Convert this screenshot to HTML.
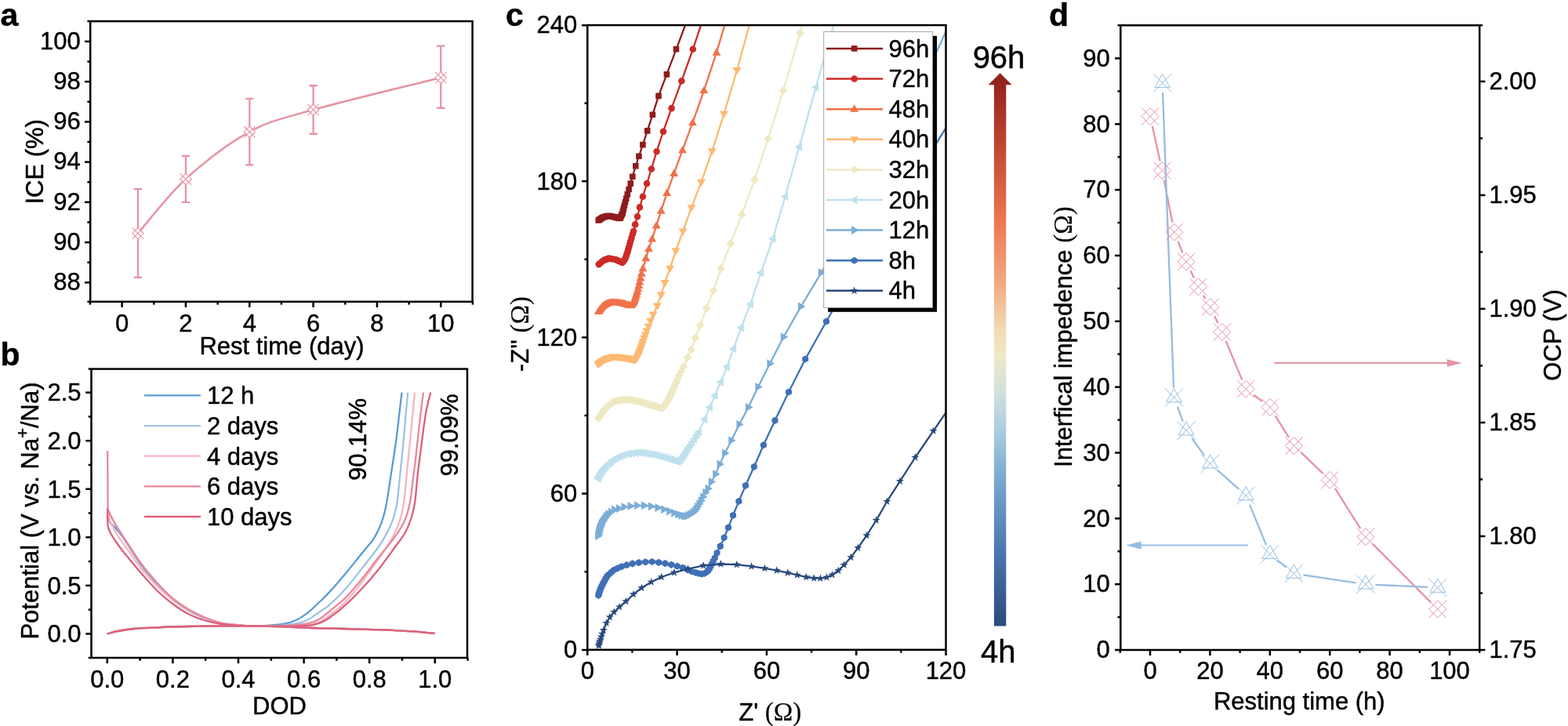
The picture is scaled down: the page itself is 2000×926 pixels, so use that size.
<!DOCTYPE html>
<html lang="en"><head><meta charset="utf-8"><title>Figure</title>
<style>
html,body{margin:0;padding:0;background:#fff;}
body{width:2000px;height:926px;overflow:hidden;}
svg{display:block;font-family:"Liberation Sans", sans-serif;}
text{stroke:#000;stroke-width:0.45px;stroke-linejoin:round;}
</style></head><body>
<svg width="2000" height="926" viewBox="0 0 2000 926">
<rect width="2000" height="926" fill="#fff"/>
<rect x="115.2" y="27.1" width="487.4" height="357.7" fill="none" stroke="#000" stroke-width="2.5"/>
<line x1="114.93" y1="384.8" x2="114.93" y2="388.6" stroke="#000" stroke-width="2.5" />
<line x1="155.6" y1="384.8" x2="155.6" y2="392" stroke="#000" stroke-width="2.5" />
<text x="155.6" y="422.8" font-size="31" text-anchor="middle" fill="#000">0</text>
<line x1="196.27" y1="384.8" x2="196.27" y2="388.6" stroke="#000" stroke-width="2.5" />
<line x1="236.94" y1="384.8" x2="236.94" y2="392" stroke="#000" stroke-width="2.5" />
<text x="236.94" y="422.8" font-size="31" text-anchor="middle" fill="#000">2</text>
<line x1="277.61" y1="384.8" x2="277.61" y2="388.6" stroke="#000" stroke-width="2.5" />
<line x1="318.28" y1="384.8" x2="318.28" y2="392" stroke="#000" stroke-width="2.5" />
<text x="318.28" y="422.8" font-size="31" text-anchor="middle" fill="#000">4</text>
<line x1="358.95" y1="384.8" x2="358.95" y2="388.6" stroke="#000" stroke-width="2.5" />
<line x1="399.62" y1="384.8" x2="399.62" y2="392" stroke="#000" stroke-width="2.5" />
<text x="399.62" y="422.8" font-size="31" text-anchor="middle" fill="#000">6</text>
<line x1="440.29" y1="384.8" x2="440.29" y2="388.6" stroke="#000" stroke-width="2.5" />
<line x1="480.96" y1="384.8" x2="480.96" y2="392" stroke="#000" stroke-width="2.5" />
<text x="480.96" y="422.8" font-size="31" text-anchor="middle" fill="#000">8</text>
<line x1="521.63" y1="384.8" x2="521.63" y2="388.6" stroke="#000" stroke-width="2.5" />
<line x1="562.3" y1="384.8" x2="562.3" y2="392" stroke="#000" stroke-width="2.5" />
<text x="562.3" y="422.8" font-size="31" text-anchor="middle" fill="#000">10</text>
<line x1="602.97" y1="384.8" x2="602.97" y2="388.6" stroke="#000" stroke-width="2.5" />
<line x1="115.2" y1="384.8" x2="111.4" y2="384.8" stroke="#000" stroke-width="2.5" />
<line x1="115.2" y1="360.34" x2="108" y2="360.34" stroke="#000" stroke-width="2.5" />
<text x="102.7" y="370.14" font-size="31" text-anchor="end" fill="#000">88</text>
<line x1="115.2" y1="334.72" x2="111.4" y2="334.72" stroke="#000" stroke-width="2.5" />
<line x1="115.2" y1="309.1" x2="108" y2="309.1" stroke="#000" stroke-width="2.5" />
<text x="102.7" y="318.9" font-size="31" text-anchor="end" fill="#000">90</text>
<line x1="115.2" y1="283.48" x2="111.4" y2="283.48" stroke="#000" stroke-width="2.5" />
<line x1="115.2" y1="257.86" x2="108" y2="257.86" stroke="#000" stroke-width="2.5" />
<text x="102.7" y="267.66" font-size="31" text-anchor="end" fill="#000">92</text>
<line x1="115.2" y1="232.24" x2="111.4" y2="232.24" stroke="#000" stroke-width="2.5" />
<line x1="115.2" y1="206.62" x2="108" y2="206.62" stroke="#000" stroke-width="2.5" />
<text x="102.7" y="216.42" font-size="31" text-anchor="end" fill="#000">94</text>
<line x1="115.2" y1="181" x2="111.4" y2="181" stroke="#000" stroke-width="2.5" />
<line x1="115.2" y1="155.38" x2="108" y2="155.38" stroke="#000" stroke-width="2.5" />
<text x="102.7" y="165.18" font-size="31" text-anchor="end" fill="#000">96</text>
<line x1="115.2" y1="129.76" x2="111.4" y2="129.76" stroke="#000" stroke-width="2.5" />
<line x1="115.2" y1="104.14" x2="108" y2="104.14" stroke="#000" stroke-width="2.5" />
<text x="102.7" y="113.94" font-size="31" text-anchor="end" fill="#000">98</text>
<line x1="115.2" y1="78.52" x2="111.4" y2="78.52" stroke="#000" stroke-width="2.5" />
<line x1="115.2" y1="52.9" x2="108" y2="52.9" stroke="#000" stroke-width="2.5" />
<text x="102.7" y="62.7" font-size="31" text-anchor="end" fill="#000">100</text>
<line x1="115.2" y1="27.1" x2="111.4" y2="27.1" stroke="#000" stroke-width="2.5" />
<text x="0.5" y="33" font-size="41" text-anchor="start" font-weight="bold" fill="#000">a</text>
<text x="359.5" y="452.4" font-size="31" text-anchor="middle" fill="#000">Rest time (day)</text>
<text x="54.6" y="206.3" font-size="31" text-anchor="middle" transform="rotate(-90 54.6 206.3)" fill="#000">ICE (%)</text>
<path d="M175.94,297.57 C186.1,286.04 213.22,249.96 236.94,228.4 C260.66,206.83 291.17,182.92 318.28,168.19 C345.39,153.46 358.95,151.54 399.62,140.01 C440.29,128.48 535.19,105.85 562.3,99.02" fill="none" stroke="#e693a3" stroke-width="2.5"/>
<path d="M175.94,241.21V353.94M170.74,241.21h10.4M170.74,353.94h10.4" fill="none" stroke="#e693a3" stroke-width="2.3"/>
<path d="M236.94,198.93V257.86M231.74,198.93h10.4M231.74,257.86h10.4" fill="none" stroke="#e693a3" stroke-width="2.3"/>
<path d="M318.28,125.92V210.46M313.08,125.92h10.4M313.08,210.46h10.4" fill="none" stroke="#e693a3" stroke-width="2.3"/>
<path d="M399.62,109.26V170.75M394.42,109.26h10.4M394.42,170.75h10.4" fill="none" stroke="#e693a3" stroke-width="2.3"/>
<path d="M562.3,58.54V137.96M557.1,58.54h10.4M557.1,137.96h10.4" fill="none" stroke="#e693a3" stroke-width="2.3"/>
<path d="M168.74,297.57L175.94,290.37L183.13,297.57L175.94,304.77Z" fill="#fff" stroke="none"/>
<path d="M168.74,297.57L175.94,290.37L183.13,297.57L175.94,304.77ZM168.74,290.37L183.13,304.77M168.74,304.77L183.13,290.37" fill="none" stroke="#e693a3" stroke-width="1.1"/>
<path d="M229.74,228.4L236.94,221.2L244.14,228.4L236.94,235.6Z" fill="#fff" stroke="none"/>
<path d="M229.74,228.4L236.94,221.2L244.14,228.4L236.94,235.6ZM229.74,221.2L244.14,235.6M229.74,235.6L244.14,221.2" fill="none" stroke="#e693a3" stroke-width="1.1"/>
<path d="M311.08,168.19L318.28,160.99L325.48,168.19L318.28,175.39Z" fill="#fff" stroke="none"/>
<path d="M311.08,168.19L318.28,160.99L325.48,168.19L318.28,175.39ZM311.08,160.99L325.48,175.39M311.08,175.39L325.48,160.99" fill="none" stroke="#e693a3" stroke-width="1.1"/>
<path d="M392.42,140.01L399.62,132.81L406.82,140.01L399.62,147.21Z" fill="#fff" stroke="none"/>
<path d="M392.42,140.01L399.62,132.81L406.82,140.01L399.62,147.21ZM392.42,132.81L406.82,147.21M392.42,147.21L406.82,132.81" fill="none" stroke="#e693a3" stroke-width="1.1"/>
<path d="M555.1,99.02L562.3,91.82L569.5,99.02L562.3,106.22Z" fill="#fff" stroke="none"/>
<path d="M555.1,99.02L562.3,91.82L569.5,99.02L562.3,106.22ZM555.1,91.82L569.5,106.22M555.1,106.22L569.5,91.82" fill="none" stroke="#e693a3" stroke-width="1.1"/>
<rect x="116.5" y="470.6" width="479.5" height="368.4" fill="none" stroke="#000" stroke-width="2.5"/>
<line x1="136.8" y1="839" x2="136.8" y2="846.2" stroke="#000" stroke-width="2.5" />
<text x="136.8" y="876.7" font-size="31" text-anchor="middle" fill="#000">0.0</text>
<line x1="178.6" y1="839" x2="178.6" y2="842.8" stroke="#000" stroke-width="2.5" />
<line x1="220.4" y1="839" x2="220.4" y2="846.2" stroke="#000" stroke-width="2.5" />
<text x="220.4" y="876.7" font-size="31" text-anchor="middle" fill="#000">0.2</text>
<line x1="262.2" y1="839" x2="262.2" y2="842.8" stroke="#000" stroke-width="2.5" />
<line x1="304" y1="839" x2="304" y2="846.2" stroke="#000" stroke-width="2.5" />
<text x="304" y="876.7" font-size="31" text-anchor="middle" fill="#000">0.4</text>
<line x1="345.8" y1="839" x2="345.8" y2="842.8" stroke="#000" stroke-width="2.5" />
<line x1="387.6" y1="839" x2="387.6" y2="846.2" stroke="#000" stroke-width="2.5" />
<text x="387.6" y="876.7" font-size="31" text-anchor="middle" fill="#000">0.6</text>
<line x1="429.4" y1="839" x2="429.4" y2="842.8" stroke="#000" stroke-width="2.5" />
<line x1="471.2" y1="839" x2="471.2" y2="846.2" stroke="#000" stroke-width="2.5" />
<text x="471.2" y="876.7" font-size="31" text-anchor="middle" fill="#000">0.8</text>
<line x1="513" y1="839" x2="513" y2="842.8" stroke="#000" stroke-width="2.5" />
<line x1="554.8" y1="839" x2="554.8" y2="846.2" stroke="#000" stroke-width="2.5" />
<text x="554.8" y="876.7" font-size="31" text-anchor="middle" fill="#000">1.0</text>
<line x1="596.6" y1="839" x2="596.6" y2="842.8" stroke="#000" stroke-width="2.5" />
<line x1="116.5" y1="839" x2="112.7" y2="839" stroke="#000" stroke-width="2.5" />
<line x1="116.5" y1="808.4" x2="109.3" y2="808.4" stroke="#000" stroke-width="2.5" />
<text x="103.5" y="819.2" font-size="31" text-anchor="end" fill="#000">0.0</text>
<line x1="116.5" y1="777.62" x2="112.7" y2="777.62" stroke="#000" stroke-width="2.5" />
<line x1="116.5" y1="746.85" x2="109.3" y2="746.85" stroke="#000" stroke-width="2.5" />
<text x="103.5" y="757.65" font-size="31" text-anchor="end" fill="#000">0.5</text>
<line x1="116.5" y1="716.08" x2="112.7" y2="716.08" stroke="#000" stroke-width="2.5" />
<line x1="116.5" y1="685.3" x2="109.3" y2="685.3" stroke="#000" stroke-width="2.5" />
<text x="103.5" y="696.1" font-size="31" text-anchor="end" fill="#000">1.0</text>
<line x1="116.5" y1="654.52" x2="112.7" y2="654.52" stroke="#000" stroke-width="2.5" />
<line x1="116.5" y1="623.75" x2="109.3" y2="623.75" stroke="#000" stroke-width="2.5" />
<text x="103.5" y="634.55" font-size="31" text-anchor="end" fill="#000">1.5</text>
<line x1="116.5" y1="592.98" x2="112.7" y2="592.98" stroke="#000" stroke-width="2.5" />
<line x1="116.5" y1="562.2" x2="109.3" y2="562.2" stroke="#000" stroke-width="2.5" />
<text x="103.5" y="573" font-size="31" text-anchor="end" fill="#000">2.0</text>
<line x1="116.5" y1="531.42" x2="112.7" y2="531.42" stroke="#000" stroke-width="2.5" />
<line x1="116.5" y1="500.65" x2="109.3" y2="500.65" stroke="#000" stroke-width="2.5" />
<text x="103.5" y="511.45" font-size="31" text-anchor="end" fill="#000">2.5</text>
<line x1="116.5" y1="470.6" x2="112.7" y2="470.6" stroke="#000" stroke-width="2.5" />
<text x="0.5" y="465.5" font-size="41" text-anchor="start" font-weight="bold" fill="#000">b</text>
<text x="356.5" y="911" font-size="31" text-anchor="middle" fill="#000">DOD</text>
<text x="48.8" y="651.5" font-size="31" text-anchor="middle" transform="rotate(-90 48.8 651.5)">Potential (V vs. Na<tspan dy="-13" font-size="22">+</tspan><tspan dy="13">/Na)</tspan></text>
<line x1="184" y1="504.4" x2="256" y2="504.4" stroke="#5b9bd5" stroke-width="2.3" />
<text x="264" y="515.4" font-size="31" text-anchor="start" fill="#000">12 h</text>
<line x1="184" y1="543.05" x2="256" y2="543.05" stroke="#9dc3e6" stroke-width="2.3" />
<text x="264" y="554.05" font-size="31" text-anchor="start" fill="#000">2 days</text>
<line x1="184" y1="581.7" x2="256" y2="581.7" stroke="#f4b5c1" stroke-width="2.3" />
<text x="264" y="592.7" font-size="31" text-anchor="start" fill="#000">4 days</text>
<line x1="184" y1="620.35" x2="256" y2="620.35" stroke="#e8899c" stroke-width="2.3" />
<text x="264" y="631.35" font-size="31" text-anchor="start" fill="#000">6 days</text>
<line x1="184" y1="659" x2="256" y2="659" stroke="#dc617a" stroke-width="2.3" />
<text x="264" y="670" font-size="31" text-anchor="start" fill="#000">10 days</text>
<text x="467.1" y="613" font-size="31" text-anchor="start" transform="rotate(-90 467.1 613)" fill="#000">90.14%</text>
<text x="583.8" y="607.5" font-size="31" text-anchor="start" transform="rotate(-90 583.8 607.5)" fill="#000">99.09%</text>
<path d="M136.8,808.4 C139,807.83 144.47,806.07 150,805 C155.53,803.93 161.67,802.78 170,802 C178.33,801.22 188.33,800.8 200,800.3 C211.67,799.8 223.33,799.33 240,799 C256.67,798.67 280,798.25 300,798.3 C320,798.35 343.33,798.85 360,799.3 C376.67,799.75 386.67,800.55 400,801 C413.33,801.45 426.33,801.63 440,802 C453.67,802.37 468.17,802.67 482,803.2 C495.83,803.73 510.92,804.4 523,805.2 C535.08,806 549.25,807.53 554.5,808" fill="none" stroke="#5b9bd5" stroke-width="2.3"/>
<path d="M136.8,808.4 C139,807.83 144.47,806.07 150,805 C155.53,803.93 161.67,802.78 170,802 C178.33,801.22 188.33,800.8 200,800.3 C211.67,799.8 223.33,799.33 240,799 C256.67,798.67 280,798.25 300,798.3 C320,798.35 343.33,798.85 360,799.3 C376.67,799.75 386.67,800.55 400,801 C413.33,801.45 426.33,801.63 440,802 C453.67,802.37 468.17,802.67 482,803.2 C495.83,803.73 510.92,804.4 523,805.2 C535.08,806 549.25,807.53 554.5,808" fill="none" stroke="#9dc3e6" stroke-width="2.3"/>
<path d="M136.8,808.4 C139,807.83 144.47,806.07 150,805 C155.53,803.93 161.67,802.78 170,802 C178.33,801.22 188.33,800.8 200,800.3 C211.67,799.8 223.33,799.33 240,799 C256.67,798.67 280,798.25 300,798.3 C320,798.35 343.33,798.85 360,799.3 C376.67,799.75 386.67,800.55 400,801 C413.33,801.45 426.33,801.63 440,802 C453.67,802.37 468.17,802.67 482,803.2 C495.83,803.73 510.92,804.4 523,805.2 C535.08,806 549.25,807.53 554.5,808" fill="none" stroke="#f4b5c1" stroke-width="2.3"/>
<path d="M136.8,808.4 C139,807.83 144.47,806.07 150,805 C155.53,803.93 161.67,802.78 170,802 C178.33,801.22 188.33,800.8 200,800.3 C211.67,799.8 223.33,799.33 240,799 C256.67,798.67 280,798.25 300,798.3 C320,798.35 343.33,798.85 360,799.3 C376.67,799.75 386.67,800.55 400,801 C413.33,801.45 426.33,801.63 440,802 C453.67,802.37 468.17,802.67 482,803.2 C495.83,803.73 510.92,804.4 523,805.2 C535.08,806 549.25,807.53 554.5,808" fill="none" stroke="#e8899c" stroke-width="2.3"/>
<path d="M136.8,808.4 C139,807.83 144.47,806.07 150,805 C155.53,803.93 161.67,802.78 170,802 C178.33,801.22 188.33,800.8 200,800.3 C211.67,799.8 223.33,799.33 240,799 C256.67,798.67 280,798.25 300,798.3 C320,798.35 343.33,798.85 360,799.3 C376.67,799.75 386.67,800.55 400,801 C413.33,801.45 426.33,801.63 440,802 C453.67,802.37 468.17,802.67 482,803.2 C495.83,803.73 510.92,804.4 523,805.2 C535.08,806 549.25,807.53 554.5,808" fill="none" stroke="#dc617a" stroke-width="2.3"/>
<path d="M137.4,659 C138,660.33 139.57,664.83 141,667 C142.43,669.17 144.17,670 146,672 C147.83,674 149.67,676 152,679 C154.33,682 155.33,683.08 160,690 C164.67,696.92 173.33,711.42 180,720.5 C186.67,729.58 193.33,737.17 200,744.5 C206.67,751.83 213.33,758.83 220,764.5 C226.67,770.17 233.33,774.58 240,778.5 C246.67,782.42 253.33,785.37 260,788 C266.67,790.63 273.33,792.8 280,794.3 C286.67,795.8 294,796.32 300,797 C306,797.68 313.33,798.17 316,798.4" fill="none" stroke="#5b9bd5" stroke-width="2.3"/>
<path d="M316,798.4 C320,798.33 332.43,798.4 340,798 C347.57,797.6 355.32,797.08 361.4,796 C367.48,794.92 371.47,793.77 376.5,791.5 C381.53,789.23 386.55,786.23 391.6,782.4 C396.65,778.57 401.98,773.08 406.8,768.5 C411.62,763.92 414.8,761.1 420.5,754.9 C426.2,748.7 434.15,739.5 441,731.3 C447.85,723.1 455.78,712.88 461.6,705.7 C467.42,698.52 472.15,693.68 475.9,688.2 C479.65,682.72 481.88,677.75 484.1,672.8 C486.32,667.85 487.65,663.97 489.2,658.5 C490.75,653.03 491.58,650.35 493.4,640 C495.22,629.65 498.1,609.6 500.1,596.4 C502.1,583.2 503.82,572.67 505.4,560.8 C506.98,548.93 508.42,535.23 509.6,525.2 C510.78,515.17 512.02,504.7 512.5,500.6" fill="none" stroke="#5b9bd5" stroke-width="2.3"/>
<path d="M138,651 C139,653 141.67,658.75 144,663 C146.33,667.25 149.33,672.17 152,676.5 C154.67,680.83 155.33,681.92 160,689 C164.67,696.08 173.33,710 180,719 C186.67,728 193.33,735.67 200,743 C206.67,750.33 213.33,757.33 220,763 C226.67,768.67 233.33,773 240,777 C246.67,781 253.33,784.17 260,787 C266.67,789.83 273.33,792.33 280,794 C286.67,795.67 294,796.27 300,797 C306,797.73 313.33,798.17 316,798.4" fill="none" stroke="#9dc3e6" stroke-width="2.3"/>
<path d="M316,798.4 C321.67,798.37 339.92,798.67 350,798.2 C360.08,797.73 369.57,796.8 376.5,795.6 C383.43,794.4 386.55,793.43 391.6,791 C396.65,788.57 401.98,784.28 406.8,781 C411.62,777.72 414.8,776.33 420.5,771.3 C426.2,766.27 434.15,758.5 441,750.8 C447.85,743.1 454.75,733.82 461.6,725.1 C468.45,716.38 476.98,705.67 482.1,698.5 C487.22,691.33 489.23,687.75 492.3,682.1 C495.37,676.45 498.45,669.9 500.5,664.6 C502.55,659.3 503.57,654.4 504.6,650.3 C505.63,646.2 505.7,647.93 506.7,640 C507.7,632.07 509.25,615.9 510.6,602.7 C511.95,589.5 513.58,573.72 514.8,560.8 C516.02,547.88 517,535.23 517.9,525.2 C518.8,515.17 519.82,504.7 520.2,500.6" fill="none" stroke="#9dc3e6" stroke-width="2.3"/>
<path d="M137.4,655 C138.17,657.17 139.9,663.33 142,668 C144.1,672.67 147,678.17 150,683 C153,687.83 155,690 160,697 C165,704 173.33,716.67 180,725 C186.67,733.33 193.33,740.33 200,747 C206.67,753.67 213.33,759.83 220,765 C226.67,770.17 233.33,774.28 240,778 C246.67,781.72 253.33,784.63 260,787.3 C266.67,789.97 273.33,792.38 280,794 C286.67,795.62 294,796.27 300,797 C306,797.73 313.33,798.17 316,798.4" fill="none" stroke="#f4b5c1" stroke-width="2.3"/>
<path d="M316,798.4 C323.33,798.42 347.67,798.73 360,798.5 C372.33,798.27 382.2,797.83 390,797 C397.8,796.17 401.72,795.57 406.8,793.5 C411.88,791.43 414.8,788.98 420.5,784.6 C426.2,780.22 434.15,774.2 441,767.2 C447.85,760.2 454.75,751.48 461.6,742.6 C468.45,733.72 476.3,722.12 482.1,713.9 C487.9,705.68 492.3,700.15 496.4,693.3 C500.5,686.45 503.97,679.28 506.7,672.8 C509.43,666.32 511.37,659.87 512.8,654.4 C514.23,648.93 514.27,648.62 515.3,640 C516.33,631.38 517.68,615.9 519,602.7 C520.32,589.5 521.98,573.03 523.2,560.8 C524.42,548.57 525.33,539.33 526.3,529.3 C527.27,519.27 528.55,505.38 529,500.6" fill="none" stroke="#f4b5c1" stroke-width="2.3"/>
<path d="M137.2,575 C137.23,582.5 137.33,608.33 137.4,620 C137.47,631.67 137.5,639.83 137.6,645 C137.7,650.17 136.93,648 138,651 C139.07,654 141.67,658.75 144,663 C146.33,667.25 149.33,672.17 152,676.5 C154.67,680.83 155.33,681.92 160,689 C164.67,696.08 173.33,710 180,719 C186.67,728 193.33,735.67 200,743 C206.67,750.33 213.33,757.33 220,763 C226.67,768.67 233.33,773 240,777 C246.67,781 253.33,784.17 260,787 C266.67,789.83 273.33,792.33 280,794 C286.67,795.67 294,796.27 300,797 C306,797.73 313.33,798.17 316,798.4" fill="none" stroke="#e8899c" stroke-width="2.3"/>
<path d="M316,798.4 C323.33,798.38 347.4,798.8 360,798.3 C372.6,797.8 383.8,796.78 391.6,795.4 C399.4,794.02 401.98,792.65 406.8,790 C411.62,787.35 414.8,784.15 420.5,779.5 C426.2,774.85 434.15,768.93 441,762.1 C447.85,755.27 454.75,746.88 461.6,738.5 C468.45,730.12 475.27,720.52 482.1,711.8 C488.93,703.08 497.48,693.03 502.6,686.2 C507.72,679.37 510.07,675.77 512.8,670.8 C515.53,665.83 517.28,661.53 519,656.4 C520.72,651.27 521.88,646.85 523.1,640 C524.32,633.15 525.07,625.02 526.3,615.3 C527.53,605.58 529.27,592.18 530.5,581.7 C531.73,571.22 532.65,561.82 533.7,552.4 C534.75,542.98 535.75,533.83 536.8,525.2 C537.85,516.57 539.47,504.7 540,500.6" fill="none" stroke="#e8899c" stroke-width="2.3"/>
<path d="M137.2,648.6 C137.23,652 136.93,664.1 137.4,669 C137.87,673.9 137.9,673.83 140,678 C142.1,682.17 146.67,689.17 150,694 C153.33,698.83 155,700.83 160,707 C165,713.17 173.33,723.33 180,731 C186.67,738.67 193.33,746.5 200,753 C206.67,759.5 213.33,765 220,770 C226.67,775 233.33,779.5 240,783 C246.67,786.5 253.33,788.9 260,791 C266.67,793.1 273.33,794.5 280,795.6 C286.67,796.7 294,797.12 300,797.6 C306,798.08 313.33,798.35 316,798.5" fill="none" stroke="#dc617a" stroke-width="2.3"/>
<path d="M316,798.5 C325.83,798.52 362.67,798.68 375,798.6 C387.33,798.52 385.83,798.3 390,798 C394.17,797.7 396.62,797.53 400,796.8 C403.38,796.07 406.88,795.12 410.3,793.6 C413.72,792.08 415.38,791.42 420.5,787.7 C425.62,783.98 434.15,777.45 441,771.3 C447.85,765.15 454.75,758.15 461.6,750.8 C468.45,743.45 475.27,735.75 482.1,727.2 C488.93,718.65 496.78,707.53 502.6,699.5 C508.42,691.47 513.23,685.83 517,679 C520.77,672.17 523.15,665 525.2,658.5 C527.25,652 528.07,648.6 529.3,640 C530.53,631.4 531.35,618.02 532.6,606.9 C533.85,595.78 535.57,583.08 536.8,573.3 C538.03,563.52 538.95,555.88 540,548.2 C541.05,540.52 542.07,533.13 543.1,527.2 C544.13,521.27 545.15,517.03 546.2,512.6 C547.25,508.17 548.87,502.6 549.4,500.6" fill="none" stroke="#dc617a" stroke-width="2.3"/>
<rect x="1429.3" y="32.3" width="457.9" height="796.7" fill="none" stroke="#000" stroke-width="2.5"/>
<line x1="1428.8" y1="829" x2="1428.8" y2="832.8" stroke="#000" stroke-width="2.5" />
<line x1="1467" y1="829" x2="1467" y2="836.2" stroke="#000" stroke-width="2.5" />
<text x="1467" y="866.4" font-size="31" text-anchor="middle" fill="#000">0</text>
<line x1="1505.2" y1="829" x2="1505.2" y2="832.8" stroke="#000" stroke-width="2.5" />
<line x1="1543.4" y1="829" x2="1543.4" y2="836.2" stroke="#000" stroke-width="2.5" />
<text x="1543.4" y="866.4" font-size="31" text-anchor="middle" fill="#000">20</text>
<line x1="1581.6" y1="829" x2="1581.6" y2="832.8" stroke="#000" stroke-width="2.5" />
<line x1="1619.8" y1="829" x2="1619.8" y2="836.2" stroke="#000" stroke-width="2.5" />
<text x="1619.8" y="866.4" font-size="31" text-anchor="middle" fill="#000">40</text>
<line x1="1658" y1="829" x2="1658" y2="832.8" stroke="#000" stroke-width="2.5" />
<line x1="1696.2" y1="829" x2="1696.2" y2="836.2" stroke="#000" stroke-width="2.5" />
<text x="1696.2" y="866.4" font-size="31" text-anchor="middle" fill="#000">60</text>
<line x1="1734.4" y1="829" x2="1734.4" y2="832.8" stroke="#000" stroke-width="2.5" />
<line x1="1772.6" y1="829" x2="1772.6" y2="836.2" stroke="#000" stroke-width="2.5" />
<text x="1772.6" y="866.4" font-size="31" text-anchor="middle" fill="#000">80</text>
<line x1="1810.8" y1="829" x2="1810.8" y2="832.8" stroke="#000" stroke-width="2.5" />
<line x1="1849" y1="829" x2="1849" y2="836.2" stroke="#000" stroke-width="2.5" />
<text x="1849" y="866.4" font-size="31" text-anchor="middle" fill="#000">100</text>
<line x1="1887.2" y1="829" x2="1887.2" y2="832.8" stroke="#000" stroke-width="2.5" />
<line x1="1429.3" y1="829" x2="1422.1" y2="829" stroke="#000" stroke-width="2.5" />
<text x="1415.8" y="839.3" font-size="31" text-anchor="end" fill="#000">0</text>
<line x1="1429.3" y1="787.08" x2="1425.5" y2="787.08" stroke="#000" stroke-width="2.5" />
<line x1="1429.3" y1="745.16" x2="1422.1" y2="745.16" stroke="#000" stroke-width="2.5" />
<text x="1415.8" y="755.46" font-size="31" text-anchor="end" fill="#000">10</text>
<line x1="1429.3" y1="703.24" x2="1425.5" y2="703.24" stroke="#000" stroke-width="2.5" />
<line x1="1429.3" y1="661.32" x2="1422.1" y2="661.32" stroke="#000" stroke-width="2.5" />
<text x="1415.8" y="671.62" font-size="31" text-anchor="end" fill="#000">20</text>
<line x1="1429.3" y1="619.4" x2="1425.5" y2="619.4" stroke="#000" stroke-width="2.5" />
<line x1="1429.3" y1="577.48" x2="1422.1" y2="577.48" stroke="#000" stroke-width="2.5" />
<text x="1415.8" y="587.78" font-size="31" text-anchor="end" fill="#000">30</text>
<line x1="1429.3" y1="535.56" x2="1425.5" y2="535.56" stroke="#000" stroke-width="2.5" />
<line x1="1429.3" y1="493.64" x2="1422.1" y2="493.64" stroke="#000" stroke-width="2.5" />
<text x="1415.8" y="503.94" font-size="31" text-anchor="end" fill="#000">40</text>
<line x1="1429.3" y1="451.72" x2="1425.5" y2="451.72" stroke="#000" stroke-width="2.5" />
<line x1="1429.3" y1="409.8" x2="1422.1" y2="409.8" stroke="#000" stroke-width="2.5" />
<text x="1415.8" y="420.1" font-size="31" text-anchor="end" fill="#000">50</text>
<line x1="1429.3" y1="367.88" x2="1425.5" y2="367.88" stroke="#000" stroke-width="2.5" />
<line x1="1429.3" y1="325.96" x2="1422.1" y2="325.96" stroke="#000" stroke-width="2.5" />
<text x="1415.8" y="336.26" font-size="31" text-anchor="end" fill="#000">60</text>
<line x1="1429.3" y1="284.04" x2="1425.5" y2="284.04" stroke="#000" stroke-width="2.5" />
<line x1="1429.3" y1="242.12" x2="1422.1" y2="242.12" stroke="#000" stroke-width="2.5" />
<text x="1415.8" y="252.42" font-size="31" text-anchor="end" fill="#000">70</text>
<line x1="1429.3" y1="200.2" x2="1425.5" y2="200.2" stroke="#000" stroke-width="2.5" />
<line x1="1429.3" y1="158.28" x2="1422.1" y2="158.28" stroke="#000" stroke-width="2.5" />
<text x="1415.8" y="168.58" font-size="31" text-anchor="end" fill="#000">80</text>
<line x1="1429.3" y1="116.36" x2="1425.5" y2="116.36" stroke="#000" stroke-width="2.5" />
<line x1="1429.3" y1="74.44" x2="1422.1" y2="74.44" stroke="#000" stroke-width="2.5" />
<text x="1415.8" y="84.74" font-size="31" text-anchor="end" fill="#000">90</text>
<line x1="1429.3" y1="32.3" x2="1425.5" y2="32.3" stroke="#000" stroke-width="2.5" />
<line x1="1887.2" y1="829" x2="1894.4" y2="829" stroke="#000" stroke-width="2.5" />
<text x="1899.5" y="838.7" font-size="31" text-anchor="start" fill="#000">1.75</text>
<line x1="1887.2" y1="756.49" x2="1891" y2="756.49" stroke="#000" stroke-width="2.5" />
<line x1="1887.2" y1="683.98" x2="1894.4" y2="683.98" stroke="#000" stroke-width="2.5" />
<text x="1899.5" y="693.68" font-size="31" text-anchor="start" fill="#000">1.80</text>
<line x1="1887.2" y1="611.47" x2="1891" y2="611.47" stroke="#000" stroke-width="2.5" />
<line x1="1887.2" y1="538.96" x2="1894.4" y2="538.96" stroke="#000" stroke-width="2.5" />
<text x="1899.5" y="548.66" font-size="31" text-anchor="start" fill="#000">1.85</text>
<line x1="1887.2" y1="466.45" x2="1891" y2="466.45" stroke="#000" stroke-width="2.5" />
<line x1="1887.2" y1="393.94" x2="1894.4" y2="393.94" stroke="#000" stroke-width="2.5" />
<text x="1899.5" y="403.64" font-size="31" text-anchor="start" fill="#000">1.90</text>
<line x1="1887.2" y1="321.43" x2="1891" y2="321.43" stroke="#000" stroke-width="2.5" />
<line x1="1887.2" y1="248.92" x2="1894.4" y2="248.92" stroke="#000" stroke-width="2.5" />
<text x="1899.5" y="258.62" font-size="31" text-anchor="start" fill="#000">1.95</text>
<line x1="1887.2" y1="176.41" x2="1891" y2="176.41" stroke="#000" stroke-width="2.5" />
<line x1="1887.2" y1="103.9" x2="1894.4" y2="103.9" stroke="#000" stroke-width="2.5" />
<text x="1899.5" y="113.6" font-size="31" text-anchor="start" fill="#000">2.00</text>
<line x1="1887.2" y1="32.3" x2="1891" y2="32.3" stroke="#000" stroke-width="2.5" />
<text x="1338" y="33" font-size="41" text-anchor="start" font-weight="bold" fill="#000">d</text>
<text x="1657.3" y="905.4" font-size="31" text-anchor="middle" fill="#000">Resting time (h)</text>
<text x="1366.9" y="429.6" font-size="31" text-anchor="middle" transform="rotate(-90 1366.9 429.6)">Interfical impedence <tspan font-family='"Liberation Serif", serif' font-size="33" stroke-width="0.15">(Ω)</tspan></text>
<text x="1991.5" y="427.4" font-size="31" text-anchor="middle" transform="rotate(-90 1991.5 427.4)" fill="#000">OCP (V)</text>
<path d="M1469.8,160.7L1479.7,205.4M1484.81,229.87L1495.39,283.83M1502.49,307.69L1508.41,322.31M1518.51,345.17L1522.99,354.53M1534.79,376.54L1537.41,380.96M1549.16,402.99L1553.54,412.21M1563.7,435.04L1584.3,484.66M1599.08,503.73L1610.02,511.97M1626.61,530.11L1643.89,557.89M1659.51,577.16L1687.09,603.64M1702.78,622.87L1735.22,674.23M1750.72,693.66L1824.88,768.14" fill="none" stroke="#e693a3" stroke-width="2.3"/>
<path d="M1483.06,118.29L1497.04,494.51M1501.84,518.72L1508.76,537.38M1520.42,559.23L1536.18,581.07M1552.82,599.52L1579.88,623.68M1593.94,643.57L1615.06,695.13M1629.49,714.6L1640.51,723.6M1662.56,733.35L1729.54,743.35M1754.39,745.78L1821.21,748.92" fill="none" stroke="#95bde1" stroke-width="2.3"/>
<path d="M1456.1,148.5L1467.1,137.5L1478.1,148.5L1467.1,159.5ZM1456.1,137.5L1478.1,159.5M1456.1,159.5L1478.1,137.5M1471.4,217.6L1482.4,206.6L1493.4,217.6L1482.4,228.6ZM1471.4,206.6L1493.4,228.6M1471.4,228.6L1493.4,206.6M1486.8,296.1L1497.8,285.1L1508.8,296.1L1497.8,307.1ZM1486.8,285.1L1508.8,307.1M1486.8,307.1L1508.8,285.1M1502.1,333.9L1513.1,322.9L1524.1,333.9L1513.1,344.9ZM1502.1,322.9L1524.1,344.9M1502.1,344.9L1524.1,322.9M1517.4,365.8L1528.4,354.8L1539.4,365.8L1528.4,376.8ZM1517.4,354.8L1539.4,376.8M1517.4,376.8L1539.4,354.8M1532.8,391.7L1543.8,380.7L1554.8,391.7L1543.8,402.7ZM1532.8,380.7L1554.8,402.7M1532.8,402.7L1554.8,380.7M1547.9,423.5L1558.9,412.5L1569.9,423.5L1558.9,434.5ZM1547.9,412.5L1569.9,434.5M1547.9,434.5L1569.9,412.5M1578.1,496.2L1589.1,485.2L1600.1,496.2L1589.1,507.2ZM1578.1,485.2L1600.1,507.2M1578.1,507.2L1600.1,485.2M1609,519.5L1620,508.5L1631,519.5L1620,530.5ZM1609,508.5L1631,530.5M1609,530.5L1631,508.5M1639.5,568.5L1650.5,557.5L1661.5,568.5L1650.5,579.5ZM1639.5,557.5L1661.5,579.5M1639.5,579.5L1661.5,557.5M1685.1,612.3L1696.1,601.3L1707.1,612.3L1696.1,623.3ZM1685.1,601.3L1707.1,623.3M1685.1,623.3L1707.1,601.3M1730.9,684.8L1741.9,673.8L1752.9,684.8L1741.9,695.8ZM1730.9,673.8L1752.9,695.8M1730.9,695.8L1752.9,673.8M1822.7,777L1833.7,766L1844.7,777L1833.7,788ZM1822.7,766L1844.7,788M1822.7,788L1844.7,766" fill="none" stroke="#e693a3" stroke-width="1"/>
<path d="M1482.6,94.43L1492.46,111.6L1472.74,111.6ZM1471,94.2L1494.2,117.4M1471,117.4L1494.2,94.2M1497.5,495.63L1507.36,512.8L1487.64,512.8ZM1485.9,495.4L1509.1,518.6M1485.9,518.6L1509.1,495.4M1513.1,537.73L1522.96,554.9L1503.24,554.9ZM1501.5,537.5L1524.7,560.7M1501.5,560.7L1524.7,537.5M1543.5,579.83L1553.36,597L1533.64,597ZM1531.9,579.6L1555.1,602.8M1531.9,602.8L1555.1,579.6M1589.2,620.63L1599.06,637.8L1579.34,637.8ZM1577.6,620.4L1600.8,643.6M1577.6,643.6L1600.8,620.4M1619.8,695.33L1629.66,712.5L1609.94,712.5ZM1608.2,695.1L1631.4,718.3M1608.2,718.3L1631.4,695.1M1650.2,720.13L1660.06,737.3L1640.34,737.3ZM1638.6,719.9L1661.8,743.1M1638.6,743.1L1661.8,719.9M1741.9,733.83L1751.76,751L1732.04,751ZM1730.3,733.6L1753.5,756.8M1730.3,756.8L1753.5,733.6M1833.7,738.13L1843.56,755.3L1823.84,755.3ZM1822.1,737.9L1845.3,761.1M1822.1,761.1L1845.3,737.9" fill="none" stroke="#95bde1" stroke-width="1"/>
<path d="M1625.2,463H1847" fill="none" stroke="#e693a3" stroke-width="2.2"/><path d="M1864.6,463L1845.6,458.2V467.8Z" fill="#e693a3"/>
<path d="M1592.1,695.5H1454" fill="none" stroke="#95bde1" stroke-width="2.2"/><path d="M1436.2,695.5L1455.6,690.6V700.4Z" fill="#95bde1"/>
<clipPath id="cclip"><rect x="749.3" y="32.1" width="457.2" height="796.7"/></clipPath>
<g clip-path="url(#cclip)">
<path d="M763.3,281 L764.55,280.17 L765.8,279.34 L767.04,278.5 L768.29,277.67 L769.62,277.01 L771.06,276.58 L772.49,276.14 L773.93,275.71 L775.36,275.27 L776.83,275.42 L778.31,275.68 L779.79,275.94 L781.27,276.2 L782.74,276.45 L784.19,276.85 L785.63,277.27 L787.07,277.7 L788.51,278.12 L789.94,278.55 L791.06,278.25 L791.71,276.86 L792.41,275.37 L793.16,273.78 L793.96,272.09 L794.43,270.16 L794.98,267.84 L795.64,265.05 L796.51,261.72 L797.55,257.8 L798.76,253.21 L800.27,247.85 L802.11,241.55 L804.3,234.1 L806.83,225.28 L810.8,211.8 L814.9,199.3 L819.9,184.6 L825.7,166.9 L832.4,146.3 L840,122.4 L850.4,94.9 L862.5,62.8 L876.7,25.2" fill="none" stroke="#8e1c1c" stroke-width="2.3" stroke-linejoin="round"/>
<path d="M759.5,277.2h7.6v7.6h-7.6ZM760.75,276.37h7.6v7.6h-7.6ZM762,275.54h7.6v7.6h-7.6ZM763.24,274.7h7.6v7.6h-7.6ZM764.49,273.87h7.6v7.6h-7.6ZM765.82,273.21h7.6v7.6h-7.6ZM767.26,272.78h7.6v7.6h-7.6ZM768.69,272.34h7.6v7.6h-7.6ZM770.13,271.91h7.6v7.6h-7.6ZM771.56,271.47h7.6v7.6h-7.6ZM773.03,271.62h7.6v7.6h-7.6ZM774.51,271.88h7.6v7.6h-7.6ZM775.99,272.14h7.6v7.6h-7.6ZM777.47,272.4h7.6v7.6h-7.6ZM778.94,272.65h7.6v7.6h-7.6ZM780.39,273.05h7.6v7.6h-7.6ZM781.83,273.47h7.6v7.6h-7.6ZM783.27,273.9h7.6v7.6h-7.6ZM784.71,274.32h7.6v7.6h-7.6ZM786.14,274.75h7.6v7.6h-7.6ZM787.26,274.45h7.6v7.6h-7.6ZM787.91,273.06h7.6v7.6h-7.6ZM788.61,271.57h7.6v7.6h-7.6ZM789.36,269.98h7.6v7.6h-7.6ZM790.16,268.29h7.6v7.6h-7.6ZM790.63,266.36h7.6v7.6h-7.6ZM791.18,264.04h7.6v7.6h-7.6ZM791.84,261.25h7.6v7.6h-7.6ZM792.71,257.92h7.6v7.6h-7.6ZM793.75,254h7.6v7.6h-7.6ZM794.96,249.41h7.6v7.6h-7.6ZM796.47,244.05h7.6v7.6h-7.6ZM798.31,237.75h7.6v7.6h-7.6ZM800.5,230.3h7.6v7.6h-7.6ZM803.03,221.48h7.6v7.6h-7.6ZM807,208h7.6v7.6h-7.6ZM811.1,195.5h7.6v7.6h-7.6ZM816.1,180.8h7.6v7.6h-7.6ZM821.9,163.1h7.6v7.6h-7.6ZM828.6,142.5h7.6v7.6h-7.6ZM836.2,118.6h7.6v7.6h-7.6ZM846.6,91.1h7.6v7.6h-7.6ZM858.7,59h7.6v7.6h-7.6ZM872.9,21.4h7.6v7.6h-7.6Z" fill="#8e1c1c"/>
<path d="M763.8,337.1 L764.96,336.15 L766.12,335.19 L767.28,334.24 L768.43,333.29 L769.59,332.34 L770.91,331.67 L772.33,331.17 L773.74,330.66 L775.15,330.15 L776.56,329.65 L778.04,329.83 L779.52,330.07 L780.99,330.32 L782.47,330.57 L783.95,330.82 L785.4,331.18 L786.77,331.79 L788.14,332.4 L789.51,333.01 L790.88,333.61 L792.25,334.22 L793.62,334.83 L794.62,334.11 L795.54,332.81 L796.52,331.4 L797.55,329.85 L798.19,327.94 L798.89,325.83 L799.67,323.49 L800.53,320.9 L801.35,318.01 L802.24,314.84 L803.23,311.37 L804.3,307.56 L805.51,303.41 L806.88,298.78 L808,295 L810.2,286.4 L813,276.2 L816,264.4 L819.9,250.8 L825.1,234.1 L830.9,215.5 L837.6,193.2 L846,167.7 L856.6,138.1 L869.4,103.2 L883.8,62.8 L900.5,13" fill="none" stroke="#cd2a27" stroke-width="2.3" stroke-linejoin="round"/>
<path d="M759.5,337.1a4.3,4.3 0 1,0 8.6,0a4.3,4.3 0 1,0 -8.6,0ZM760.66,336.15a4.3,4.3 0 1,0 8.6,0a4.3,4.3 0 1,0 -8.6,0ZM761.82,335.19a4.3,4.3 0 1,0 8.6,0a4.3,4.3 0 1,0 -8.6,0ZM762.98,334.24a4.3,4.3 0 1,0 8.6,0a4.3,4.3 0 1,0 -8.6,0ZM764.13,333.29a4.3,4.3 0 1,0 8.6,0a4.3,4.3 0 1,0 -8.6,0ZM765.29,332.34a4.3,4.3 0 1,0 8.6,0a4.3,4.3 0 1,0 -8.6,0ZM766.61,331.67a4.3,4.3 0 1,0 8.6,0a4.3,4.3 0 1,0 -8.6,0ZM768.03,331.17a4.3,4.3 0 1,0 8.6,0a4.3,4.3 0 1,0 -8.6,0ZM769.44,330.66a4.3,4.3 0 1,0 8.6,0a4.3,4.3 0 1,0 -8.6,0ZM770.85,330.15a4.3,4.3 0 1,0 8.6,0a4.3,4.3 0 1,0 -8.6,0ZM772.26,329.65a4.3,4.3 0 1,0 8.6,0a4.3,4.3 0 1,0 -8.6,0ZM773.74,329.83a4.3,4.3 0 1,0 8.6,0a4.3,4.3 0 1,0 -8.6,0ZM775.22,330.07a4.3,4.3 0 1,0 8.6,0a4.3,4.3 0 1,0 -8.6,0ZM776.69,330.32a4.3,4.3 0 1,0 8.6,0a4.3,4.3 0 1,0 -8.6,0ZM778.17,330.57a4.3,4.3 0 1,0 8.6,0a4.3,4.3 0 1,0 -8.6,0ZM779.65,330.82a4.3,4.3 0 1,0 8.6,0a4.3,4.3 0 1,0 -8.6,0ZM781.1,331.18a4.3,4.3 0 1,0 8.6,0a4.3,4.3 0 1,0 -8.6,0ZM782.47,331.79a4.3,4.3 0 1,0 8.6,0a4.3,4.3 0 1,0 -8.6,0ZM783.84,332.4a4.3,4.3 0 1,0 8.6,0a4.3,4.3 0 1,0 -8.6,0ZM785.21,333.01a4.3,4.3 0 1,0 8.6,0a4.3,4.3 0 1,0 -8.6,0ZM786.58,333.61a4.3,4.3 0 1,0 8.6,0a4.3,4.3 0 1,0 -8.6,0ZM787.95,334.22a4.3,4.3 0 1,0 8.6,0a4.3,4.3 0 1,0 -8.6,0ZM789.32,334.83a4.3,4.3 0 1,0 8.6,0a4.3,4.3 0 1,0 -8.6,0ZM790.32,334.11a4.3,4.3 0 1,0 8.6,0a4.3,4.3 0 1,0 -8.6,0ZM791.24,332.81a4.3,4.3 0 1,0 8.6,0a4.3,4.3 0 1,0 -8.6,0ZM792.22,331.4a4.3,4.3 0 1,0 8.6,0a4.3,4.3 0 1,0 -8.6,0ZM793.25,329.85a4.3,4.3 0 1,0 8.6,0a4.3,4.3 0 1,0 -8.6,0ZM793.89,327.94a4.3,4.3 0 1,0 8.6,0a4.3,4.3 0 1,0 -8.6,0ZM794.59,325.83a4.3,4.3 0 1,0 8.6,0a4.3,4.3 0 1,0 -8.6,0ZM795.37,323.49a4.3,4.3 0 1,0 8.6,0a4.3,4.3 0 1,0 -8.6,0ZM796.23,320.9a4.3,4.3 0 1,0 8.6,0a4.3,4.3 0 1,0 -8.6,0ZM797.05,318.01a4.3,4.3 0 1,0 8.6,0a4.3,4.3 0 1,0 -8.6,0ZM797.94,314.84a4.3,4.3 0 1,0 8.6,0a4.3,4.3 0 1,0 -8.6,0ZM798.93,311.37a4.3,4.3 0 1,0 8.6,0a4.3,4.3 0 1,0 -8.6,0ZM800,307.56a4.3,4.3 0 1,0 8.6,0a4.3,4.3 0 1,0 -8.6,0ZM801.21,303.41a4.3,4.3 0 1,0 8.6,0a4.3,4.3 0 1,0 -8.6,0ZM802.58,298.78a4.3,4.3 0 1,0 8.6,0a4.3,4.3 0 1,0 -8.6,0ZM803.7,295a4.3,4.3 0 1,0 8.6,0a4.3,4.3 0 1,0 -8.6,0ZM805.9,286.4a4.3,4.3 0 1,0 8.6,0a4.3,4.3 0 1,0 -8.6,0ZM808.7,276.2a4.3,4.3 0 1,0 8.6,0a4.3,4.3 0 1,0 -8.6,0ZM811.7,264.4a4.3,4.3 0 1,0 8.6,0a4.3,4.3 0 1,0 -8.6,0ZM815.6,250.8a4.3,4.3 0 1,0 8.6,0a4.3,4.3 0 1,0 -8.6,0ZM820.8,234.1a4.3,4.3 0 1,0 8.6,0a4.3,4.3 0 1,0 -8.6,0ZM826.6,215.5a4.3,4.3 0 1,0 8.6,0a4.3,4.3 0 1,0 -8.6,0ZM833.3,193.2a4.3,4.3 0 1,0 8.6,0a4.3,4.3 0 1,0 -8.6,0ZM841.7,167.7a4.3,4.3 0 1,0 8.6,0a4.3,4.3 0 1,0 -8.6,0ZM852.3,138.1a4.3,4.3 0 1,0 8.6,0a4.3,4.3 0 1,0 -8.6,0ZM865.1,103.2a4.3,4.3 0 1,0 8.6,0a4.3,4.3 0 1,0 -8.6,0ZM879.5,62.8a4.3,4.3 0 1,0 8.6,0a4.3,4.3 0 1,0 -8.6,0ZM896.2,13a4.3,4.3 0 1,0 8.6,0a4.3,4.3 0 1,0 -8.6,0Z" fill="#cd2a27"/>
<path d="M763.2,397.5 L764.22,396.27 L765.29,394.98 L766.4,393.64 L767.56,392.24 L768.77,390.77 L770.39,389.64 L772.13,388.57 L773.92,387.47 L775.88,386.62 L778.03,386.19 L780.19,385.76 L782.37,385.71 L784.56,385.9 L786.76,386.08 L788.95,386.26 L791.14,386.45 L793.32,386.69 L795.43,387.3 L797.5,387.9 L799.55,388.49 L801.55,389.06 L803.53,389.63 L805.24,389.46 L806.51,387.92 L807.78,386.37 L808.78,384.67 L809.44,382.68 L810.18,380.47 L811,378 L811.85,375.24 L812.78,372.11 L813.83,368.57 L814.88,364.53 L815.87,359.93 L816.97,354.81 L818.35,349.15 L820.01,342.65 L823.8,329.6 L827.5,317.7 L831.8,304.8 L837.2,287.9 L843.2,269.1 L850.6,246.4 L859.6,221.5 L870.5,191.7 L883.4,156.7 L897.9,115.5 L913.9,67.1 L930.4,11.5" fill="none" stroke="#f0714a" stroke-width="2.3" stroke-linejoin="round"/>
<path d="M763.2,391.7L768.71,401.1L757.69,401.1ZM764.22,390.47L769.73,399.86L758.71,399.86ZM765.29,389.18L770.8,398.58L759.78,398.58ZM766.4,387.84L771.91,397.23L760.89,397.23ZM767.56,386.44L773.07,395.83L762.05,395.83ZM768.77,384.97L774.28,394.37L763.26,394.37ZM770.39,383.84L775.9,393.24L764.88,393.24ZM772.13,382.77L777.64,392.17L766.62,392.17ZM773.92,381.67L779.43,391.06L768.41,391.06ZM775.88,380.82L781.39,390.22L770.37,390.22ZM778.03,380.39L783.54,389.79L772.52,389.79ZM780.19,379.96L785.7,389.36L774.68,389.36ZM782.37,379.91L787.88,389.31L776.86,389.31ZM784.56,380.1L790.07,389.49L779.05,389.49ZM786.76,380.28L792.27,389.68L781.25,389.68ZM788.95,380.46L794.46,389.86L783.44,389.86ZM791.14,380.65L796.65,390.04L785.63,390.04ZM793.32,380.89L798.83,390.29L787.81,390.29ZM795.43,381.5L800.94,390.9L789.92,390.9ZM797.5,382.1L803.01,391.49L791.99,391.49ZM799.55,382.69L805.06,392.08L794.04,392.08ZM801.55,383.26L807.06,392.66L796.04,392.66ZM803.53,383.83L809.04,393.23L798.02,393.23ZM805.24,383.66L810.75,393.06L799.73,393.06ZM806.51,382.12L812.02,391.51L801,391.51ZM807.78,380.57L813.29,389.97L802.27,389.97ZM808.78,378.87L814.29,388.27L803.27,388.27ZM809.44,376.88L814.95,386.28L803.93,386.28ZM810.18,374.67L815.69,384.06L804.67,384.06ZM811,372.2L816.51,381.6L805.49,381.6ZM811.85,369.44L817.36,378.83L806.34,378.83ZM812.78,366.31L818.29,375.71L807.27,375.71ZM813.83,362.77L819.34,372.17L808.32,372.17ZM814.88,358.73L820.39,368.12L809.37,368.12ZM815.87,354.13L821.38,363.52L810.36,363.52ZM816.97,349.01L822.48,358.41L811.46,358.41ZM818.35,343.35L823.86,352.75L812.84,352.75ZM820.01,336.85L825.52,346.25L814.5,346.25ZM823.8,323.8L829.31,333.2L818.29,333.2ZM827.5,311.9L833.01,321.3L821.99,321.3ZM831.8,299L837.31,308.4L826.29,308.4ZM837.2,282.1L842.71,291.5L831.69,291.5ZM843.2,263.3L848.71,272.7L837.69,272.7ZM850.6,240.6L856.11,250L845.09,250ZM859.6,215.7L865.11,225.1L854.09,225.1ZM870.5,185.9L876.01,195.3L864.99,195.3ZM883.4,150.9L888.91,160.3L877.89,160.3ZM897.9,109.7L903.41,119.1L892.39,119.1ZM913.9,61.3L919.41,70.7L908.39,70.7ZM930.4,5.7L935.91,15.1L924.89,15.1Z" fill="#f0714a"/>
<path d="M762.7,464.5 L764.01,463.58 L765.37,462.63 L766.77,461.65 L768.23,460.64 L769.74,459.58 L771.3,458.49 L773.07,457.71 L775.02,457.19 L777.01,456.66 L779.03,456.12 L781.08,455.57 L783.17,455.01 L785.36,455.2 L787.55,455.41 L789.74,455.62 L791.93,455.82 L794.12,456.03 L796.31,456.23 L798.47,456.63 L800.59,457.12 L802.68,457.59 L804.74,458.06 L806.77,458.52 L808.78,458.98 L810.54,458.86 L811.76,457.27 L812.98,455.68 L813.9,453.93 L814.64,451.97 L815.43,449.84 L816.22,447.51 L817.08,444.93 L818.02,442.07 L819.07,438.9 L820.25,435.38 L821.6,431.45 L823.12,427 L824.87,421.95 L827.02,416.24 L829.64,409.3 L833.16,400.99 L838.3,390 L843.2,376 L848,360.7 L854.5,342.3 L862,319.9 L871.1,295 L881.9,264.8 L894.4,232.4 L908.2,192.8 L923.4,145.3 L940,89.5 L957.9,24.4" fill="none" stroke="#fdb971" stroke-width="2.3" stroke-linejoin="round"/>
<path d="M762.7,470.3L768.21,460.9L757.19,460.9ZM764.01,469.38L769.52,459.99L758.5,459.99ZM765.37,468.43L770.88,459.04L759.86,459.04ZM766.77,467.45L772.28,458.06L761.26,458.06ZM768.23,466.44L773.74,457.04L762.72,457.04ZM769.74,465.38L775.25,455.99L764.23,455.99ZM771.3,464.29L776.81,454.9L765.79,454.9ZM773.07,463.51L778.58,454.12L767.56,454.12ZM775.02,462.99L780.53,453.59L769.51,453.59ZM777.01,462.46L782.52,453.06L771.5,453.06ZM779.03,461.92L784.54,452.52L773.52,452.52ZM781.08,461.37L786.59,451.97L775.57,451.97ZM783.17,460.81L788.68,451.41L777.66,451.41ZM785.36,461L790.87,451.61L779.85,451.61ZM787.55,461.21L793.06,451.81L782.04,451.81ZM789.74,461.42L795.25,452.02L784.23,452.02ZM791.93,461.62L797.44,452.23L786.42,452.23ZM794.12,461.83L799.63,452.43L788.61,452.43ZM796.31,462.03L801.82,452.64L790.8,452.64ZM798.47,462.43L803.98,453.04L792.96,453.04ZM800.59,462.92L806.1,453.52L795.08,453.52ZM802.68,463.39L808.19,454L797.17,454ZM804.74,463.86L810.25,454.46L799.23,454.46ZM806.77,464.32L812.28,454.93L801.26,454.93ZM808.78,464.78L814.29,455.38L803.27,455.38ZM810.54,464.66L816.05,455.26L805.03,455.26ZM811.76,463.07L817.27,453.67L806.25,453.67ZM812.98,461.48L818.49,452.09L807.47,452.09ZM813.9,459.73L819.41,450.34L808.39,450.34ZM814.64,457.77L820.15,448.37L809.13,448.37ZM815.43,455.64L820.94,446.25L809.92,446.25ZM816.22,453.31L821.73,443.92L810.71,443.92ZM817.08,450.73L822.59,441.34L811.57,441.34ZM818.02,447.87L823.53,438.48L812.51,438.48ZM819.07,444.7L824.58,435.3L813.56,435.3ZM820.25,441.18L825.76,431.78L814.74,431.78ZM821.6,437.25L827.11,427.86L816.09,427.86ZM823.12,432.8L828.63,423.4L817.61,423.4ZM824.87,427.75L830.38,418.36L819.36,418.36ZM827.02,422.04L832.53,412.64L821.51,412.64ZM829.64,415.1L835.15,405.7L824.13,405.7ZM833.16,406.79L838.67,397.39L827.65,397.39ZM838.3,395.8L843.81,386.4L832.79,386.4ZM843.2,381.8L848.71,372.4L837.69,372.4ZM848,366.5L853.51,357.1L842.49,357.1ZM854.5,348.1L860.01,338.7L848.99,338.7ZM862,325.7L867.51,316.3L856.49,316.3ZM871.1,300.8L876.61,291.4L865.59,291.4ZM881.9,270.6L887.41,261.2L876.39,261.2ZM894.4,238.2L899.91,228.8L888.89,228.8ZM908.2,198.6L913.71,189.2L902.69,189.2ZM923.4,151.1L928.91,141.7L917.89,141.7ZM940,95.3L945.51,85.9L934.49,85.9ZM957.9,30.2L963.41,20.8L952.39,20.8Z" fill="#fdb971"/>
<path d="M763.3,533.6 L764.15,532.37 L765.03,531.09 L765.94,529.77 L766.88,528.42 L767.85,527.01 L768.85,525.56 L769.88,524.07 L770.95,522.52 L772.07,520.94 L773.63,519.69 L775.25,518.39 L776.92,517.04 L778.65,515.65 L780.44,514.22 L782.3,512.73 L784.47,511.72 L786.97,511.15 L789.6,510.56 L792.35,509.94 L795.31,509.82 L798.31,509.86 L801.31,509.89 L804.28,510.18 L807.24,510.69 L810.2,511.19 L813.15,511.69 L816.08,512.32 L818.92,513.18 L821.67,514 L824.33,514.8 L826.9,515.57 L829.4,516.32 L831.82,517.02 L834.17,517.68 L836.44,518.33 L838.63,518.95 L840.76,519.55 L842.81,520.14 L844.8,520.7 L846.07,519.16 L847.34,517.61 L848.62,516.07 L849.79,514.46 L850.75,512.66 L851.77,510.76 L852.85,508.74 L853.93,506.56 L855.03,504.19 L856.24,501.58 L857.57,498.72 L859.03,495.57 L860.58,492.11 L862.22,488.23 L864.06,483.88 L866.13,479 L868.77,473.67 L871.7,467.8 L877.1,456 L881.5,446.2 L886.9,431 L893.3,414.8 L900.9,393.5 L910,370.6 L919.7,342.5 L931.8,310.6 L946.3,273.4 L962.5,229.2 L979.8,176.8 L999,115.3 L1020.5,42.2 L1045.6,-43" fill="none" stroke="#efe9c3" stroke-width="2.3" stroke-linejoin="round"/>
<path d="M757.9,533.6L763.3,528.2L768.7,533.6L763.3,539ZM758.75,532.37L764.15,526.97L769.55,532.37L764.15,537.77ZM759.63,531.09L765.03,525.69L770.43,531.09L765.03,536.49ZM760.54,529.77L765.94,524.37L771.34,529.77L765.94,535.17ZM761.48,528.42L766.88,523.02L772.28,528.42L766.88,533.82ZM762.45,527.01L767.85,521.61L773.25,527.01L767.85,532.41ZM763.45,525.56L768.85,520.16L774.25,525.56L768.85,530.96ZM764.48,524.07L769.88,518.67L775.28,524.07L769.88,529.47ZM765.55,522.52L770.95,517.12L776.35,522.52L770.95,527.92ZM766.67,520.94L772.07,515.54L777.47,520.94L772.07,526.34ZM768.23,519.69L773.63,514.29L779.03,519.69L773.63,525.09ZM769.85,518.39L775.25,512.99L780.65,518.39L775.25,523.79ZM771.52,517.04L776.92,511.64L782.32,517.04L776.92,522.44ZM773.25,515.65L778.65,510.25L784.05,515.65L778.65,521.05ZM775.04,514.22L780.44,508.82L785.84,514.22L780.44,519.62ZM776.9,512.73L782.3,507.33L787.7,512.73L782.3,518.13ZM779.07,511.72L784.47,506.32L789.87,511.72L784.47,517.12ZM781.57,511.15L786.97,505.75L792.37,511.15L786.97,516.55ZM784.2,510.56L789.6,505.16L795,510.56L789.6,515.96ZM786.95,509.94L792.35,504.54L797.75,509.94L792.35,515.34ZM789.91,509.82L795.31,504.42L800.71,509.82L795.31,515.22ZM792.91,509.86L798.31,504.46L803.71,509.86L798.31,515.26ZM795.91,509.89L801.31,504.49L806.71,509.89L801.31,515.29ZM798.88,510.18L804.28,504.78L809.68,510.18L804.28,515.58ZM801.84,510.69L807.24,505.29L812.64,510.69L807.24,516.09ZM804.8,511.19L810.2,505.79L815.6,511.19L810.2,516.59ZM807.75,511.69L813.15,506.29L818.55,511.69L813.15,517.09ZM810.68,512.32L816.08,506.92L821.48,512.32L816.08,517.72ZM813.52,513.18L818.92,507.78L824.32,513.18L818.92,518.58ZM816.27,514L821.67,508.6L827.07,514L821.67,519.4ZM818.93,514.8L824.33,509.4L829.73,514.8L824.33,520.2ZM821.5,515.57L826.9,510.17L832.3,515.57L826.9,520.97ZM824,516.32L829.4,510.92L834.8,516.32L829.4,521.72ZM826.42,517.02L831.82,511.62L837.22,517.02L831.82,522.42ZM828.77,517.68L834.17,512.28L839.57,517.68L834.17,523.08ZM831.04,518.33L836.44,512.93L841.84,518.33L836.44,523.73ZM833.23,518.95L838.63,513.55L844.03,518.95L838.63,524.35ZM835.36,519.55L840.76,514.15L846.16,519.55L840.76,524.95ZM837.41,520.14L842.81,514.74L848.21,520.14L842.81,525.54ZM839.4,520.7L844.8,515.3L850.2,520.7L844.8,526.1ZM840.67,519.16L846.07,513.76L851.47,519.16L846.07,524.56ZM841.94,517.61L847.34,512.21L852.74,517.61L847.34,523.01ZM843.22,516.07L848.62,510.67L854.02,516.07L848.62,521.47ZM844.39,514.46L849.79,509.06L855.19,514.46L849.79,519.86ZM845.35,512.66L850.75,507.26L856.15,512.66L850.75,518.06ZM846.37,510.76L851.77,505.36L857.17,510.76L851.77,516.16ZM847.45,508.74L852.85,503.34L858.25,508.74L852.85,514.14ZM848.53,506.56L853.93,501.16L859.33,506.56L853.93,511.96ZM849.63,504.19L855.03,498.79L860.43,504.19L855.03,509.59ZM850.84,501.58L856.24,496.18L861.64,501.58L856.24,506.98ZM852.17,498.72L857.57,493.32L862.97,498.72L857.57,504.12ZM853.63,495.57L859.03,490.17L864.43,495.57L859.03,500.97ZM855.18,492.11L860.58,486.71L865.98,492.11L860.58,497.51ZM856.82,488.23L862.22,482.83L867.62,488.23L862.22,493.63ZM858.66,483.88L864.06,478.48L869.46,483.88L864.06,489.28ZM860.73,479L866.13,473.6L871.53,479L866.13,484.4ZM863.37,473.67L868.77,468.27L874.17,473.67L868.77,479.07ZM866.3,467.8L871.7,462.4L877.1,467.8L871.7,473.2ZM871.7,456L877.1,450.6L882.5,456L877.1,461.4ZM876.1,446.2L881.5,440.8L886.9,446.2L881.5,451.6ZM881.5,431L886.9,425.6L892.3,431L886.9,436.4ZM887.9,414.8L893.3,409.4L898.7,414.8L893.3,420.2ZM895.5,393.5L900.9,388.1L906.3,393.5L900.9,398.9ZM904.6,370.6L910,365.2L915.4,370.6L910,376ZM914.3,342.5L919.7,337.1L925.1,342.5L919.7,347.9ZM926.4,310.6L931.8,305.2L937.2,310.6L931.8,316ZM940.9,273.4L946.3,268L951.7,273.4L946.3,278.8ZM957.1,229.2L962.5,223.8L967.9,229.2L962.5,234.6ZM974.4,176.8L979.8,171.4L985.2,176.8L979.8,182.2ZM993.6,115.3L999,109.9L1004.4,115.3L999,120.7ZM1015.1,42.2L1020.5,36.8L1025.9,42.2L1020.5,47.6ZM1040.2,-43L1045.6,-48.4L1051,-43L1045.6,-37.6Z" fill="#efe9c3"/>
<path d="M762.7,610.2 L763.4,608.87 L764.13,607.47 L764.9,606 L765.72,604.44 L766.58,602.8 L767.65,601.18 L768.91,599.55 L770.26,597.84 L771.68,596.03 L773.33,594.26 L775.26,592.53 L777.32,590.68 L779.51,588.71 L781.86,586.6 L784.65,584.78 L787.92,583.38 L791.3,581.94 L794.78,580.45 L798.5,579.3 L802.46,578.77 L806.43,578.23 L810.39,577.7 L814.35,577.17 L818.31,577.42 L822.26,578.03 L826.22,578.64 L830.17,579.25 L834.12,579.86 L837.99,580.88 L841.74,581.98 L845.39,583.05 L848.93,584.1 L852.37,585.11 L855.71,586.12 L858.93,587.08 L862.03,588.02 L865.02,588.92 L867.08,586.94 L869.05,584.68 L870.91,582.33 L872.51,579.74 L874.2,577 L876.05,574.13 L878.09,571.07 L880.33,567.71 L882.79,564.02 L885.43,559.94 L888.5,555.12 L891.2,550.9 L898.7,534.7 L905.2,519.6 L911.7,504.5 L919.3,487.2 L927.3,467.8 L935.5,445.1 L945.2,418.1 L957.1,388 L970.6,348 L985.7,304.5 L1001.5,250.8 L1019.4,187.4 L1040.6,111.4 L1065.8,22.8" fill="none" stroke="#bfe1ee" stroke-width="2.3" stroke-linejoin="round"/>
<path d="M756.9,610.2L766.3,604.69L766.3,615.71ZM757.6,608.87L766.99,603.36L766.99,614.38ZM758.33,607.47L767.73,601.96L767.73,612.98ZM759.1,606L768.5,600.49L768.5,611.51ZM759.92,604.44L769.32,598.93L769.32,609.95ZM760.78,602.8L770.18,597.29L770.18,608.31ZM761.85,601.18L771.24,595.67L771.24,606.69ZM763.11,599.55L772.51,594.04L772.51,605.06ZM764.46,597.84L773.85,592.33L773.85,603.35ZM765.88,596.03L775.27,590.52L775.27,601.54ZM767.53,594.26L776.93,588.75L776.93,599.77ZM769.46,592.53L778.86,587.02L778.86,598.04ZM771.52,590.68L780.91,585.17L780.91,596.19ZM773.71,588.71L783.11,583.2L783.11,594.22ZM776.06,586.6L785.46,581.09L785.46,592.11ZM778.85,584.78L788.25,579.27L788.25,590.29ZM782.12,583.38L791.52,577.87L791.52,588.89ZM785.5,581.94L794.89,576.43L794.89,587.45ZM788.98,580.45L798.38,574.94L798.38,585.96ZM792.7,579.3L802.09,573.79L802.09,584.81ZM796.66,578.77L806.06,573.26L806.06,584.28ZM800.63,578.23L810.02,572.72L810.02,583.74ZM804.59,577.7L813.99,572.19L813.99,583.21ZM808.55,577.17L817.95,571.66L817.95,582.68ZM812.51,577.42L821.91,571.91L821.91,582.93ZM816.46,578.03L825.86,572.52L825.86,583.54ZM820.42,578.64L829.81,573.13L829.81,584.15ZM824.37,579.25L833.77,573.74L833.77,584.76ZM828.32,579.86L837.72,574.35L837.72,585.37ZM832.19,580.88L841.58,575.37L841.58,586.39ZM835.94,581.98L845.34,576.47L845.34,587.49ZM839.59,583.05L848.98,577.54L848.98,588.56ZM843.13,584.1L852.53,578.59L852.53,589.61ZM846.57,585.11L855.97,579.6L855.97,590.62ZM849.91,586.12L859.31,580.61L859.31,591.63ZM853.13,587.08L862.53,581.57L862.53,592.59ZM856.23,588.02L865.63,582.51L865.63,593.53ZM859.22,588.92L868.62,583.41L868.62,594.43ZM861.28,586.94L870.68,581.43L870.68,592.45ZM863.25,584.68L872.64,579.17L872.64,590.19ZM865.11,582.33L874.51,576.82L874.51,587.84ZM866.71,579.74L876.1,574.23L876.1,585.25ZM868.4,577L877.8,571.49L877.8,582.51ZM870.25,574.13L879.64,568.62L879.64,579.64ZM872.29,571.07L881.68,565.56L881.68,576.58ZM874.53,567.71L883.93,562.2L883.93,573.22ZM876.99,564.02L886.38,558.51L886.38,569.53ZM879.63,559.94L889.02,554.43L889.02,565.45ZM882.7,555.12L892.1,549.61L892.1,560.63ZM885.4,550.9L894.8,545.39L894.8,556.41ZM892.9,534.7L902.3,529.19L902.3,540.21ZM899.4,519.6L908.8,514.09L908.8,525.11ZM905.9,504.5L915.3,498.99L915.3,510.01ZM913.5,487.2L922.9,481.69L922.9,492.71ZM921.5,467.8L930.9,462.29L930.9,473.31ZM929.7,445.1L939.1,439.59L939.1,450.61ZM939.4,418.1L948.8,412.59L948.8,423.61ZM951.3,388L960.7,382.49L960.7,393.51ZM964.8,348L974.2,342.49L974.2,353.51ZM979.9,304.5L989.3,298.99L989.3,310.01ZM995.7,250.8L1005.1,245.29L1005.1,256.31ZM1013.6,187.4L1023,181.89L1023,192.91ZM1034.8,111.4L1044.2,105.89L1044.2,116.91ZM1060,22.8L1069.4,17.29L1069.4,28.31Z" fill="#bfe1ee"/>
<path d="M762.7,683.7 L763.05,682.24 L763.41,680.71 L763.79,679.1 L764.19,677.41 L764.61,675.63 L765.09,673.78 L765.83,671.9 L766.61,669.92 L767.44,667.81 L768.5,665.66 L769.97,663.5 L771.63,661.06 L773.5,658.31 L776.04,655.61 L779.5,653 L783.68,650.06 L789.52,648.4 L796.23,646.5 L804.18,645.6 L812.66,644.8 L821.66,644.8 L830.57,645.68 L839.1,647.49 L846.92,649.79 L853.83,652.08 L859.83,654.2 L864.81,656.06 L868.87,657.33 L872.36,658.35 L875.38,658.22 L878.17,657.12 L880.96,656.02 L883.31,654.16 L885.81,652.17 L887.93,649.56 L889.84,646.35 L891.97,642.74 L894.25,638.65 L896.72,633.87 L899.86,628.33 L903.1,623.2 L907.4,614.6 L912.8,604.8 L918.2,591.9 L924.7,577.9 L932.9,561.7 L943,541.2 L954.5,519.6 L967,493.5 L982,463.8 L999.5,429.8 L1021.6,391 L1047.5,347.8 L1078,296 L1113,233 L1154,153 L1200.5,53.5 L1210,32" fill="none" stroke="#7badd7" stroke-width="2.3" stroke-linejoin="round"/>
<path d="M768.5,683.7L759.1,678.19L759.1,689.21ZM768.85,682.24L759.45,676.73L759.45,687.75ZM769.21,680.71L759.81,675.2L759.81,686.22ZM769.59,679.1L760.2,673.59L760.2,684.61ZM769.99,677.41L760.6,671.9L760.6,682.92ZM770.41,675.63L761.02,670.12L761.02,681.14ZM770.89,673.78L761.49,668.27L761.49,679.29ZM771.63,671.9L762.23,666.39L762.23,677.41ZM772.41,669.92L763.02,664.41L763.02,675.43ZM773.24,667.81L763.85,662.3L763.85,673.32ZM774.3,665.66L764.91,660.15L764.91,671.17ZM775.77,663.5L766.38,657.99L766.38,669.01ZM777.43,661.06L768.04,655.55L768.04,666.57ZM779.3,658.31L769.91,652.8L769.91,663.82ZM781.84,655.61L772.44,650.1L772.44,661.12ZM785.3,653L775.9,647.49L775.9,658.51ZM789.48,650.06L780.08,644.55L780.08,655.57ZM795.32,648.4L785.92,642.89L785.92,653.91ZM802.03,646.5L792.63,640.99L792.63,652.01ZM809.98,645.6L800.58,640.09L800.58,651.11ZM818.46,644.8L809.06,639.29L809.06,650.31ZM827.46,644.8L818.06,639.29L818.06,650.31ZM836.37,645.68L826.97,640.17L826.97,651.19ZM844.9,647.49L835.51,641.98L835.51,653ZM852.72,649.79L843.32,644.28L843.32,655.3ZM859.63,652.08L850.24,646.57L850.24,657.59ZM865.63,654.2L856.24,648.69L856.24,659.71ZM870.61,656.06L861.22,650.55L861.22,661.57ZM874.67,657.33L865.27,651.82L865.27,662.84ZM878.16,658.35L868.76,652.84L868.76,663.86ZM881.18,658.22L871.78,652.71L871.78,663.73ZM883.97,657.12L874.57,651.61L874.57,662.63ZM886.76,656.02L877.36,650.51L877.36,661.53ZM889.11,654.16L879.72,648.65L879.72,659.67ZM891.61,652.17L882.22,646.66L882.22,657.68ZM893.73,649.56L884.33,644.05L884.33,655.07ZM895.64,646.35L886.24,640.84L886.24,651.86ZM897.77,642.74L888.38,637.23L888.38,648.25ZM900.05,638.65L890.66,633.14L890.66,644.16ZM902.52,633.87L893.12,628.36L893.12,639.38ZM905.66,628.33L896.26,622.82L896.26,633.84ZM908.9,623.2L899.5,617.69L899.5,628.71ZM913.2,614.6L903.8,609.09L903.8,620.11ZM918.6,604.8L909.2,599.29L909.2,610.31ZM924,591.9L914.6,586.39L914.6,597.41ZM930.5,577.9L921.1,572.39L921.1,583.41ZM938.7,561.7L929.3,556.19L929.3,567.21ZM948.8,541.2L939.4,535.69L939.4,546.71ZM960.3,519.6L950.9,514.09L950.9,525.11ZM972.8,493.5L963.4,487.99L963.4,499.01ZM987.8,463.8L978.4,458.29L978.4,469.31ZM1005.3,429.8L995.9,424.29L995.9,435.31ZM1027.4,391L1018,385.49L1018,396.51ZM1053.3,347.8L1043.9,342.29L1043.9,353.31Z" fill="#7badd7"/>
<path d="M763.3,759.3 L763.73,757.86 L764.19,756.33 L764.69,754.7 L765.21,752.96 L765.88,751.16 L766.74,749.27 L767.67,747.23 L768.77,745.08 L770.02,742.79 L771.35,740.34 L772.79,737.71 L774.34,734.88 L776.8,732.49 L779.72,729.93 L783.03,727.05 L787.54,724.97 L792.84,722.61 L799.34,720.72 L806.64,718.84 L814.78,717.64 L823.24,716.81 L831.73,716.5 L840.16,717.34 L848.4,718.67 L856.34,720.3 L863.88,722.18 L870.92,724.15 L877.19,726.78 L882.57,729.02 L887.38,730.35 L891.6,731.52 L895.32,732.09 L898.65,731.31 L901.23,729.77 L903.35,727.65 L904.98,725.17 L906.42,722.31 L908.01,719.17 L909.74,715.68 L911.7,711.7 L914.5,705.3 L918.8,696.6 L923.6,685.8 L929,672.9 L935,657.3 L942.4,639.4 L951,619.3 L961.8,595.3 L973.9,567.7 L988.5,536.3 L1006,500 L1027.2,458 L1054,410 L1086,354 L1124,292 L1170,222 L1206.2,163.6 L1222,137" fill="none" stroke="#3f70b5" stroke-width="2.3" stroke-linejoin="round"/>
<path d="M767.28,761.6L763.3,763.9L759.32,761.6L759.32,757L763.3,754.7L767.28,757ZM767.72,760.16L763.73,762.46L759.75,760.16L759.75,755.56L763.73,753.26L767.72,755.56ZM768.18,758.63L764.19,760.93L760.21,758.63L760.21,754.03L764.19,751.73L768.18,754.03ZM768.67,757L764.69,759.3L760.7,757L760.7,752.4L764.69,750.1L768.67,752.4ZM769.19,755.26L765.21,757.56L761.23,755.26L761.23,750.66L765.21,748.36L769.19,750.66ZM769.87,753.46L765.88,755.76L761.9,753.46L761.9,748.86L765.88,746.56L769.87,748.86ZM770.73,751.57L766.74,753.87L762.76,751.57L762.76,746.97L766.74,744.67L770.73,746.97ZM771.66,749.53L767.67,751.83L763.69,749.53L763.69,744.93L767.67,742.63L771.66,744.93ZM772.75,747.38L768.77,749.68L764.78,747.38L764.78,742.78L768.77,740.48L772.75,742.78ZM774,745.09L770.02,747.39L766.03,745.09L766.03,740.49L770.02,738.19L774,740.49ZM775.34,742.64L771.35,744.94L767.37,742.64L767.37,738.04L771.35,735.74L775.34,738.04ZM776.78,740.01L772.79,742.31L768.81,740.01L768.81,735.41L772.79,733.11L776.78,735.41ZM778.32,737.18L774.34,739.48L770.35,737.18L770.35,732.58L774.34,730.28L778.32,732.58ZM780.78,734.79L776.8,737.09L772.81,734.79L772.81,730.19L776.8,727.89L780.78,730.19ZM783.71,732.23L779.72,734.53L775.74,732.23L775.74,727.63L779.72,725.33L783.71,727.63ZM787.02,729.35L783.03,731.65L779.05,729.35L779.05,724.75L783.03,722.45L787.02,724.75ZM791.52,727.27L787.54,729.57L783.56,727.27L783.56,722.67L787.54,720.37L791.52,722.67ZM796.83,724.91L792.84,727.21L788.86,724.91L788.86,720.31L792.84,718.01L796.83,720.31ZM803.33,723.02L799.34,725.32L795.36,723.02L795.36,718.42L799.34,716.12L803.33,718.42ZM810.62,721.14L806.64,723.44L802.65,721.14L802.65,716.54L806.64,714.24L810.62,716.54ZM818.77,719.94L814.78,722.24L810.8,719.94L810.8,715.34L814.78,713.04L818.77,715.34ZM827.23,719.11L823.24,721.41L819.26,719.11L819.26,714.51L823.24,712.21L827.23,714.51ZM835.71,718.8L831.73,721.1L827.74,718.8L827.74,714.2L831.73,711.9L835.71,714.2ZM844.14,719.64L840.16,721.94L836.18,719.64L836.18,715.04L840.16,712.74L844.14,715.04ZM852.39,720.97L848.4,723.27L844.42,720.97L844.42,716.37L848.4,714.07L852.39,716.37ZM860.33,722.6L856.34,724.9L852.36,722.6L852.36,718L856.34,715.7L860.33,718ZM867.86,724.48L863.88,726.78L859.9,724.48L859.9,719.88L863.88,717.58L867.86,719.88ZM874.91,726.45L870.92,728.75L866.94,726.45L866.94,721.85L870.92,719.55L874.91,721.85ZM881.18,729.08L877.19,731.38L873.21,729.08L873.21,724.48L877.19,722.18L881.18,724.48ZM886.55,731.32L882.57,733.62L878.58,731.32L878.58,726.72L882.57,724.42L886.55,726.72ZM891.36,732.65L887.38,734.95L883.39,732.65L883.39,728.05L887.38,725.75L891.36,728.05ZM895.59,733.82L891.6,736.12L887.62,733.82L887.62,729.22L891.6,726.92L895.59,729.22ZM899.31,734.39L895.32,736.69L891.34,734.39L891.34,729.79L895.32,727.49L899.31,729.79ZM902.64,733.61L898.65,735.91L894.67,733.61L894.67,729.01L898.65,726.71L902.64,729.01ZM905.21,732.07L901.23,734.37L897.25,732.07L897.25,727.47L901.23,725.17L905.21,727.47ZM907.33,729.95L903.35,732.25L899.37,729.95L899.37,725.35L903.35,723.05L907.33,725.35ZM908.96,727.47L904.98,729.77L900.99,727.47L900.99,722.87L904.98,720.57L908.96,722.87ZM910.4,724.61L906.42,726.91L902.44,724.61L902.44,720.01L906.42,717.71L910.4,720.01ZM911.99,721.47L908.01,723.77L904.03,721.47L904.03,716.87L908.01,714.57L911.99,716.87ZM913.72,717.98L909.74,720.28L905.76,717.98L905.76,713.38L909.74,711.08L913.72,713.38ZM915.68,714L911.7,716.3L907.72,714L907.72,709.4L911.7,707.1L915.68,709.4ZM918.48,707.6L914.5,709.9L910.52,707.6L910.52,703L914.5,700.7L918.48,703ZM922.78,698.9L918.8,701.2L914.82,698.9L914.82,694.3L918.8,692L922.78,694.3ZM927.58,688.1L923.6,690.4L919.62,688.1L919.62,683.5L923.6,681.2L927.58,683.5ZM932.98,675.2L929,677.5L925.02,675.2L925.02,670.6L929,668.3L932.98,670.6ZM938.98,659.6L935,661.9L931.02,659.6L931.02,655L935,652.7L938.98,655ZM946.38,641.7L942.4,644L938.42,641.7L938.42,637.1L942.4,634.8L946.38,637.1ZM954.98,621.6L951,623.9L947.02,621.6L947.02,617L951,614.7L954.98,617ZM965.78,597.6L961.8,599.9L957.82,597.6L957.82,593L961.8,590.7L965.78,593ZM977.88,570L973.9,572.3L969.92,570L969.92,565.4L973.9,563.1L977.88,565.4ZM992.48,538.6L988.5,540.9L984.52,538.6L984.52,534L988.5,531.7L992.48,534ZM1009.98,502.3L1006,504.6L1002.02,502.3L1002.02,497.7L1006,495.4L1009.98,497.7ZM1031.18,460.3L1027.2,462.6L1023.22,460.3L1023.22,455.7L1027.2,453.4L1031.18,455.7ZM1057.98,412.3L1054,414.6L1050.02,412.3L1050.02,407.7L1054,405.4L1057.98,407.7Z" fill="#3f70b5"/>
<path d="M763.6,823.6 L763.98,822.05 L764.43,820.2 L765.02,818.01 L765.75,815.38 L766.77,812.24 L768.06,808.43 L769.75,803.83 L773.5,794.7 L777.8,787.1 L783.2,780.7 L790.1,774.2 L798.3,767.1 L808,758 L818.4,749.8 L830.7,742.4 L843.7,736 L859.9,730.3 L877.6,725.6 L897.2,721.3 L919.3,719.5 L939.8,720.2 L958.6,722.4 L975.4,724.9 L990.7,727.6 L1004.7,730.6 L1016.8,733.4 L1028.2,736 L1038.2,737.5 L1046.4,737.7 L1054.4,736.4 L1061.5,733.2 L1069.3,727.8 L1076.6,720.6 L1085.3,710.9 L1094.3,698.8 L1105.4,683 L1117.7,663.6 L1131.3,639.7 L1147.9,613.8 L1167.3,583.5 L1190.5,549.6 L1217,511" fill="none" stroke="#2a4a7d" stroke-width="2.3" stroke-linejoin="round"/>
<path d="M763.6,818.2L764.87,821.85L768.74,821.93L765.65,824.27L766.77,827.97L763.6,825.76L760.43,827.97L761.55,824.27L758.46,821.93L762.33,821.85ZM763.98,816.65L765.25,820.3L769.11,820.38L766.03,822.71L767.15,826.41L763.98,824.21L760.81,826.41L761.92,822.71L758.84,820.38L762.71,820.3ZM764.43,814.8L765.7,818.45L769.57,818.53L766.48,820.86L767.6,824.57L764.43,822.36L761.26,824.57L762.38,820.86L759.29,818.53L763.16,818.45ZM765.02,812.61L766.29,816.26L770.15,816.34L767.07,818.68L768.19,822.38L765.02,820.17L761.84,822.38L762.96,818.68L759.88,816.34L763.75,816.26ZM765.75,809.98L767.02,813.64L770.89,813.71L767.81,816.05L768.93,819.75L765.75,817.54L762.58,819.75L763.7,816.05L760.62,813.71L764.48,813.64ZM766.77,806.84L768.04,810.49L771.9,810.57L768.82,812.91L769.94,816.61L766.77,814.4L763.59,816.61L764.71,812.91L761.63,810.57L765.5,810.49ZM768.06,803.03L769.32,806.68L773.19,806.76L770.11,809.1L771.23,812.8L768.06,810.59L764.88,812.8L766,809.1L762.92,806.76L766.79,806.68ZM769.75,798.43L771.02,802.08L774.88,802.16L771.8,804.5L772.92,808.2L769.75,805.99L766.58,808.2L767.69,804.5L764.61,802.16L768.48,802.08ZM773.5,789.3L774.77,792.95L778.64,793.03L775.55,795.37L776.67,799.07L773.5,796.86L770.33,799.07L771.45,795.37L768.36,793.03L772.23,792.95ZM777.8,781.7L779.07,785.35L782.94,785.43L779.85,787.77L780.97,791.47L777.8,789.26L774.63,791.47L775.75,787.77L772.66,785.43L776.53,785.35ZM783.2,775.3L784.47,778.95L788.34,779.03L785.25,781.37L786.37,785.07L783.2,782.86L780.03,785.07L781.15,781.37L778.06,779.03L781.93,778.95ZM790.1,768.8L791.37,772.45L795.24,772.53L792.15,774.87L793.27,778.57L790.1,776.36L786.93,778.57L788.05,774.87L784.96,772.53L788.83,772.45ZM798.3,761.7L799.57,765.35L803.44,765.43L800.35,767.77L801.47,771.47L798.3,769.26L795.13,771.47L796.25,767.77L793.16,765.43L797.03,765.35ZM808,752.6L809.27,756.25L813.14,756.33L810.05,758.67L811.17,762.37L808,760.16L804.83,762.37L805.95,758.67L802.86,756.33L806.73,756.25ZM818.4,744.4L819.67,748.05L823.54,748.13L820.45,750.47L821.57,754.17L818.4,751.96L815.23,754.17L816.35,750.47L813.26,748.13L817.13,748.05ZM830.7,737L831.97,740.65L835.84,740.73L832.75,743.07L833.87,746.77L830.7,744.56L827.53,746.77L828.65,743.07L825.56,740.73L829.43,740.65ZM843.7,730.6L844.97,734.25L848.84,734.33L845.75,736.67L846.87,740.37L843.7,738.16L840.53,740.37L841.65,736.67L838.56,734.33L842.43,734.25ZM859.9,724.9L861.17,728.55L865.04,728.63L861.95,730.97L863.07,734.67L859.9,732.46L856.73,734.67L857.85,730.97L854.76,728.63L858.63,728.55ZM877.6,720.2L878.87,723.85L882.74,723.93L879.65,726.27L880.77,729.97L877.6,727.76L874.43,729.97L875.55,726.27L872.46,723.93L876.33,723.85ZM897.2,715.9L898.47,719.55L902.34,719.63L899.25,721.97L900.37,725.67L897.2,723.46L894.03,725.67L895.15,721.97L892.06,719.63L895.93,719.55ZM919.3,714.1L920.57,717.75L924.44,717.83L921.35,720.17L922.47,723.87L919.3,721.66L916.13,723.87L917.25,720.17L914.16,717.83L918.03,717.75ZM939.8,714.8L941.07,718.45L944.94,718.53L941.85,720.87L942.97,724.57L939.8,722.36L936.63,724.57L937.75,720.87L934.66,718.53L938.53,718.45ZM958.6,717L959.87,720.65L963.74,720.73L960.65,723.07L961.77,726.77L958.6,724.56L955.43,726.77L956.55,723.07L953.46,720.73L957.33,720.65ZM975.4,719.5L976.67,723.15L980.54,723.23L977.45,725.57L978.57,729.27L975.4,727.06L972.23,729.27L973.35,725.57L970.26,723.23L974.13,723.15ZM990.7,722.2L991.97,725.85L995.84,725.93L992.75,728.27L993.87,731.97L990.7,729.76L987.53,731.97L988.65,728.27L985.56,725.93L989.43,725.85ZM1004.7,725.2L1005.97,728.85L1009.84,728.93L1006.75,731.27L1007.87,734.97L1004.7,732.76L1001.53,734.97L1002.65,731.27L999.56,728.93L1003.43,728.85ZM1016.8,728L1018.07,731.65L1021.94,731.73L1018.85,734.07L1019.97,737.77L1016.8,735.56L1013.63,737.77L1014.75,734.07L1011.66,731.73L1015.53,731.65ZM1028.2,730.6L1029.47,734.25L1033.34,734.33L1030.25,736.67L1031.37,740.37L1028.2,738.16L1025.03,740.37L1026.15,736.67L1023.06,734.33L1026.93,734.25ZM1038.2,732.1L1039.47,735.75L1043.34,735.83L1040.25,738.17L1041.37,741.87L1038.2,739.66L1035.03,741.87L1036.15,738.17L1033.06,735.83L1036.93,735.75ZM1046.4,732.3L1047.67,735.95L1051.54,736.03L1048.45,738.37L1049.57,742.07L1046.4,739.86L1043.23,742.07L1044.35,738.37L1041.26,736.03L1045.13,735.95ZM1054.4,731L1055.67,734.65L1059.54,734.73L1056.45,737.07L1057.57,740.77L1054.4,738.56L1051.23,740.77L1052.35,737.07L1049.26,734.73L1053.13,734.65ZM1061.5,727.8L1062.77,731.45L1066.64,731.53L1063.55,733.87L1064.67,737.57L1061.5,735.36L1058.33,737.57L1059.45,733.87L1056.36,731.53L1060.23,731.45ZM1069.3,722.4L1070.57,726.05L1074.44,726.13L1071.35,728.47L1072.47,732.17L1069.3,729.96L1066.13,732.17L1067.25,728.47L1064.16,726.13L1068.03,726.05ZM1076.6,715.2L1077.87,718.85L1081.74,718.93L1078.65,721.27L1079.77,724.97L1076.6,722.76L1073.43,724.97L1074.55,721.27L1071.46,718.93L1075.33,718.85ZM1085.3,705.5L1086.57,709.15L1090.44,709.23L1087.35,711.57L1088.47,715.27L1085.3,713.06L1082.13,715.27L1083.25,711.57L1080.16,709.23L1084.03,709.15ZM1094.3,693.4L1095.57,697.05L1099.44,697.13L1096.35,699.47L1097.47,703.17L1094.3,700.96L1091.13,703.17L1092.25,699.47L1089.16,697.13L1093.03,697.05ZM1105.4,677.6L1106.67,681.25L1110.54,681.33L1107.45,683.67L1108.57,687.37L1105.4,685.16L1102.23,687.37L1103.35,683.67L1100.26,681.33L1104.13,681.25ZM1117.7,658.2L1118.97,661.85L1122.84,661.93L1119.75,664.27L1120.87,667.97L1117.7,665.76L1114.53,667.97L1115.65,664.27L1112.56,661.93L1116.43,661.85ZM1131.3,634.3L1132.57,637.95L1136.44,638.03L1133.35,640.37L1134.47,644.07L1131.3,641.86L1128.13,644.07L1129.25,640.37L1126.16,638.03L1130.03,637.95ZM1147.9,608.4L1149.17,612.05L1153.04,612.13L1149.95,614.47L1151.07,618.17L1147.9,615.96L1144.73,618.17L1145.85,614.47L1142.76,612.13L1146.63,612.05ZM1167.3,578.1L1168.57,581.75L1172.44,581.83L1169.35,584.17L1170.47,587.87L1167.3,585.66L1164.13,587.87L1165.25,584.17L1162.16,581.83L1166.03,581.75ZM1190.5,544.2L1191.77,547.85L1195.64,547.93L1192.55,550.27L1193.67,553.97L1190.5,551.76L1187.33,553.97L1188.45,550.27L1185.36,547.93L1189.23,547.85ZM1217,505.6L1218.27,509.25L1222.14,509.33L1219.05,511.67L1220.17,515.37L1217,513.16L1213.83,515.37L1214.95,511.67L1211.86,509.33L1215.73,509.25Z" fill="#2a4a7d"/>
</g>
<rect x="749.3" y="32.1" width="457.2" height="796.7" fill="none" stroke="#000" stroke-width="2.5"/>
<line x1="749.3" y1="828.8" x2="749.3" y2="836" stroke="#000" stroke-width="2.5" />
<text x="749.3" y="866" font-size="31" text-anchor="middle" fill="#000">0</text>
<line x1="806.45" y1="828.8" x2="806.45" y2="832.6" stroke="#000" stroke-width="2.5" />
<line x1="863.6" y1="828.8" x2="863.6" y2="836" stroke="#000" stroke-width="2.5" />
<text x="863.6" y="866" font-size="31" text-anchor="middle" fill="#000">30</text>
<line x1="920.75" y1="828.8" x2="920.75" y2="832.6" stroke="#000" stroke-width="2.5" />
<line x1="977.9" y1="828.8" x2="977.9" y2="836" stroke="#000" stroke-width="2.5" />
<text x="977.9" y="866" font-size="31" text-anchor="middle" fill="#000">60</text>
<line x1="1035.05" y1="828.8" x2="1035.05" y2="832.6" stroke="#000" stroke-width="2.5" />
<line x1="1092.2" y1="828.8" x2="1092.2" y2="836" stroke="#000" stroke-width="2.5" />
<text x="1092.2" y="866" font-size="31" text-anchor="middle" fill="#000">90</text>
<line x1="1149.35" y1="828.8" x2="1149.35" y2="832.6" stroke="#000" stroke-width="2.5" />
<line x1="1206.5" y1="828.8" x2="1206.5" y2="836" stroke="#000" stroke-width="2.5" />
<text x="1206.5" y="866" font-size="31" text-anchor="middle" fill="#000">120</text>
<line x1="749.3" y1="829" x2="742.1" y2="829" stroke="#000" stroke-width="2.5" />
<text x="736.3" y="839.1" font-size="31" text-anchor="end" fill="#000">0</text>
<line x1="749.3" y1="729.2" x2="745.5" y2="729.2" stroke="#000" stroke-width="2.5" />
<line x1="749.3" y1="629.6" x2="742.1" y2="629.6" stroke="#000" stroke-width="2.5" />
<text x="736.3" y="639.9" font-size="31" text-anchor="end" fill="#000">60</text>
<line x1="749.3" y1="530" x2="745.5" y2="530" stroke="#000" stroke-width="2.5" />
<line x1="749.3" y1="430.4" x2="742.1" y2="430.4" stroke="#000" stroke-width="2.5" />
<text x="736.3" y="440.7" font-size="31" text-anchor="end" fill="#000">120</text>
<line x1="749.3" y1="330.8" x2="745.5" y2="330.8" stroke="#000" stroke-width="2.5" />
<line x1="749.3" y1="231.2" x2="742.1" y2="231.2" stroke="#000" stroke-width="2.5" />
<text x="736.3" y="241.5" font-size="31" text-anchor="end" fill="#000">180</text>
<line x1="749.3" y1="131.6" x2="745.5" y2="131.6" stroke="#000" stroke-width="2.5" />
<line x1="749.3" y1="32.3" x2="742.1" y2="32.3" stroke="#000" stroke-width="2.5" />
<text x="736.3" y="42.3" font-size="31" text-anchor="end" fill="#000">240</text>
<text x="645" y="33" font-size="41" text-anchor="start" font-weight="bold" fill="#000">c</text>
<text x="982.3" y="918.7" font-size="31" text-anchor="middle">Z' <tspan font-family='"Liberation Serif", serif' font-size="33" stroke-width="0.15">(Ω)</tspan></text>
<text x="674" y="426" font-size="31" text-anchor="middle" transform="rotate(-90 674 426)">-Z'' <tspan font-family='"Liberation Serif", serif' font-size="33" stroke-width="0.15">(Ω)</tspan></text>
<rect x="1056.1" y="45.8" width="138.9" height="352" fill="#000"/>
<rect x="1050.7" y="40.4" width="138.9" height="352" fill="#fff" stroke="#9a9a9a" stroke-width="0.9"/>
<line x1="1054" y1="61.9" x2="1126" y2="61.9" stroke="#8e1c1c" stroke-width="2.5" />
<path d="M1085.9,58.1h7.6v7.6h-7.6Z" fill="#8e1c1c"/>
<text x="1133.5" y="72.5" font-size="31" text-anchor="start" fill="#000">96h</text>
<line x1="1054" y1="100.52" x2="1126" y2="100.52" stroke="#cd2a27" stroke-width="2.5" />
<path d="M1085.4,100.52a4.3,4.3 0 1,0 8.6,0a4.3,4.3 0 1,0 -8.6,0Z" fill="#cd2a27"/>
<text x="1133.5" y="111.12" font-size="31" text-anchor="start" fill="#000">72h</text>
<line x1="1054" y1="139.14" x2="1126" y2="139.14" stroke="#f0714a" stroke-width="2.5" />
<path d="M1089.7,133.34L1095.21,142.74L1084.19,142.74Z" fill="#f0714a"/>
<text x="1133.5" y="149.74" font-size="31" text-anchor="start" fill="#000">48h</text>
<line x1="1054" y1="177.76" x2="1126" y2="177.76" stroke="#fdb971" stroke-width="2.5" />
<path d="M1089.7,183.56L1095.21,174.16L1084.19,174.16Z" fill="#fdb971"/>
<text x="1133.5" y="188.36" font-size="31" text-anchor="start" fill="#000">40h</text>
<line x1="1054" y1="216.38" x2="1126" y2="216.38" stroke="#efe9c3" stroke-width="2.5" />
<path d="M1084.3,216.38L1089.7,210.98L1095.1,216.38L1089.7,221.78Z" fill="#efe9c3"/>
<text x="1133.5" y="226.98" font-size="31" text-anchor="start" fill="#000">32h</text>
<line x1="1054" y1="255" x2="1126" y2="255" stroke="#bfe1ee" stroke-width="2.5" />
<path d="M1083.9,255L1093.3,249.49L1093.3,260.51Z" fill="#bfe1ee"/>
<text x="1133.5" y="265.6" font-size="31" text-anchor="start" fill="#000">20h</text>
<line x1="1054" y1="293.62" x2="1126" y2="293.62" stroke="#7badd7" stroke-width="2.5" />
<path d="M1095.5,293.62L1086.1,288.11L1086.1,299.13Z" fill="#7badd7"/>
<text x="1133.5" y="304.22" font-size="31" text-anchor="start" fill="#000">12h</text>
<line x1="1054" y1="332.24" x2="1126" y2="332.24" stroke="#3f70b5" stroke-width="2.5" />
<path d="M1093.68,334.54L1089.7,336.84L1085.72,334.54L1085.72,329.94L1089.7,327.64L1093.68,329.94Z" fill="#3f70b5"/>
<text x="1133.5" y="342.84" font-size="31" text-anchor="start" fill="#000">8h</text>
<line x1="1054" y1="370.86" x2="1126" y2="370.86" stroke="#2a4a7d" stroke-width="2.5" />
<path d="M1089.7,365.46L1090.97,369.11L1094.84,369.19L1091.75,371.53L1092.87,375.23L1089.7,373.02L1086.53,375.23L1087.65,371.53L1084.56,369.19L1088.43,369.11Z" fill="#2a4a7d"/>
<text x="1133.5" y="381.46" font-size="31" text-anchor="start" fill="#000">4h</text>
<linearGradient id="garr" x1="0" y1="0" x2="0" y2="1"><stop offset="0" stop-color="#8f1f1c"/><stop offset="0.13" stop-color="#c04530"/><stop offset="0.265" stop-color="#ee7650"/><stop offset="0.38" stop-color="#f3a983"/><stop offset="0.46" stop-color="#f1d9b0"/><stop offset="0.51" stop-color="#eeeac8"/><stop offset="0.58" stop-color="#cfe0dc"/><stop offset="0.65" stop-color="#a9cbe0"/><stop offset="0.73" stop-color="#7aaad0"/><stop offset="0.87" stop-color="#4a74ad"/><stop offset="1" stop-color="#2c4a7b"/></linearGradient>
<path d="M1275.6,93.3L1290.6,108.3H1283.3V798.6H1267.9V108.3H1260.6Z" fill="url(#garr)"/>
<text x="1274" y="86.6" font-size="40" text-anchor="middle" fill="#000">96h</text>
<text x="1273.3" y="844.7" font-size="40" text-anchor="middle" fill="#000">4h</text>
</svg>
</body></html>
